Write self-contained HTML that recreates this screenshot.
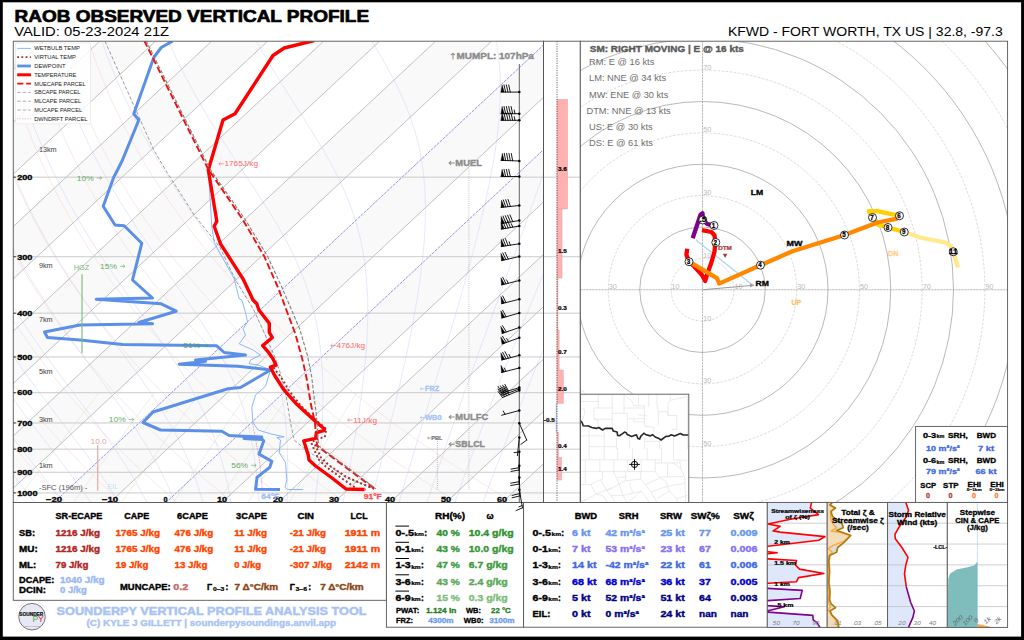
<!DOCTYPE html>
<html><head><meta charset="utf-8"><title>RAOB Observed Vertical Profile</title>
<style>html,body{margin:0;padding:0;background:#fff;}svg{display:block;font-family:"Liberation Sans",sans-serif;}</style></head>
<body>
<svg width="1024" height="640" viewBox="0 0 1024 640">
<rect x="0.00" y="0.00" width="1024.00" height="640.00" fill="#000" stroke="none" stroke-width="1" />
<rect x="2.80" y="2.30" width="1018.30" height="634.30" fill="#fff" stroke="none" stroke-width="1" />
<text x="14.60" y="21.50" font-size="17.30" fill="#000" font-weight="bold" stroke="#000" stroke-width="0.73" stroke-linejoin="round" textLength="354.46" lengthAdjust="spacingAndGlyphs" >RAOB OBSERVED VERTICAL PROFILE</text>
<text x="14.20" y="36.40" font-size="13.21" fill="#000" textLength="154.95" lengthAdjust="spacingAndGlyphs" >VALID: 05-23-2024 21Z</text>
<text x="727.92" y="36.40" font-size="13.21" fill="#000" textLength="274.88" lengthAdjust="spacingAndGlyphs" >KFWD - FORT WORTH, TX US | 32.8, -97.3</text>
<clipPath id="skclip"><rect x="13.25" y="41.20" width="530.25" height="461.30"/></clipPath>
<g clip-path="url(#skclip)">
<polygon points="-730.0,502.5 -674.0,502.5 -180.4,41.2 -236.4,41.2" fill="#f9f9f9"/>
<polygon points="-618.0,502.5 -562.0,502.5 -68.4,41.2 -124.4,41.2" fill="#f9f9f9"/>
<polygon points="-506.0,502.5 -450.0,502.5 43.6,41.2 -12.4,41.2" fill="#f9f9f9"/>
<polygon points="-394.0,502.5 -338.0,502.5 155.6,41.2 99.6,41.2" fill="#f9f9f9"/>
<polygon points="-282.0,502.5 -226.0,502.5 267.6,41.2 211.6,41.2" fill="#f9f9f9"/>
<polygon points="-170.0,502.5 -114.0,502.5 379.6,41.2 323.6,41.2" fill="#f9f9f9"/>
<polygon points="-58.0,502.5 -2.0,502.5 491.6,41.2 435.6,41.2" fill="#f9f9f9"/>
<polygon points="54.0,502.5 110.0,502.5 603.6,41.2 547.6,41.2" fill="#f9f9f9"/>
<polygon points="166.0,502.5 222.0,502.5 715.6,41.2 659.6,41.2" fill="#f9f9f9"/>
<polygon points="278.0,502.5 334.0,502.5 827.6,41.2 771.6,41.2" fill="#f9f9f9"/>
<polygon points="390.0,502.5 446.0,502.5 939.6,41.2 883.6,41.2" fill="#f9f9f9"/>
<polygon points="502.0,502.5 558.0,502.5 1051.6,41.2 995.6,41.2" fill="#f9f9f9"/>
<polyline points="9.2,502.5 -8.9,482.4" fill="none" stroke="#f9d0d0" stroke-width="0.5" />
<polyline points="65.2,502.5 45.5,482.4 27.1,462.4 9.7,442.3 -6.5,422.3" fill="none" stroke="#f9d0d0" stroke-width="0.5" />
<polyline points="121.2,502.5 99.9,482.4 79.9,462.4 61.0,442.3 43.3,422.3 26.8,402.2 11.3,382.2 -3.1,362.1" fill="none" stroke="#f9d0d0" stroke-width="0.5" />
<polyline points="177.2,502.5 154.3,482.4 132.7,462.4 112.3,442.3 93.1,422.3 75.1,402.2 58.3,382.2 42.5,362.1 27.8,342.0 14.2,322.0 1.5,301.9" fill="none" stroke="#f9d0d0" stroke-width="0.5" />
<polyline points="233.2,502.5 208.7,482.4 185.5,462.4 163.6,442.3 143.0,422.3 123.5,402.2 105.3,382.2 88.2,362.1 72.2,342.0 57.2,322.0 43.3,301.9 30.5,281.9 18.6,261.8 7.7,241.8" fill="none" stroke="#f9d0d0" stroke-width="0.5" />
<polyline points="289.2,502.5 263.1,482.4 238.3,462.4 214.9,442.3 192.8,422.3 171.9,402.2 152.3,382.2 133.8,362.1 116.5,342.0 100.3,322.0 85.2,301.9 71.1,281.9 58.0,261.8 46.0,241.8 34.9,221.7 24.8,201.6 15.5,181.6 7.2,161.5" fill="none" stroke="#f9d0d0" stroke-width="0.5" />
<polyline points="345.2,502.5 317.5,482.4 291.2,462.4 266.2,442.3 242.6,422.3 220.3,402.2 199.3,382.2 179.4,362.1 160.8,342.0 143.3,322.0 127.0,301.9 111.7,281.9 97.5,261.8 84.3,241.8 72.1,221.7 60.9,201.6 50.6,181.6 41.2,161.5 32.8,141.5 25.2,121.4 18.4,101.4 12.4,81.3 7.2,61.3" fill="none" stroke="#f9d0d0" stroke-width="0.5" />
<polyline points="401.2,502.5 371.9,482.4 344.0,462.4 317.5,442.3 292.4,422.3 268.7,402.2 246.3,382.2 225.1,362.1 205.1,342.0 186.4,322.0 168.8,301.9 152.3,281.9 136.9,261.8 122.6,241.8 109.3,221.7 97.0,201.6 85.7,181.6 75.3,161.5 65.9,141.5 57.3,121.4 49.6,101.4 42.7,81.3 36.7,61.3 31.4,41.2" fill="none" stroke="#f9d0d0" stroke-width="0.5" />
<polyline points="457.2,502.5 426.3,482.4 396.8,462.4 368.8,442.3 342.3,422.3 317.1,402.2 293.3,382.2 270.7,362.1 249.5,342.0 229.4,322.0 210.6,301.9 192.9,281.9 176.4,261.8 160.9,241.8 146.5,221.7 133.2,201.6 120.8,181.6 109.4,161.5 99.0,141.5 89.5,121.4 80.8,101.4 73.1,81.3 66.1,61.3 60.0,41.2" fill="none" stroke="#f9d0d0" stroke-width="0.5" />
<polyline points="513.2,502.5 480.6,482.4 449.6,462.4 420.1,442.3 392.1,422.3 365.5,402.2 340.3,382.2 316.4,362.1 293.8,342.0 272.5,322.0 252.4,301.9 233.5,281.9 215.8,261.8 199.2,241.8 183.7,221.7 169.3,201.6 155.9,181.6 143.5,161.5 132.1,141.5 121.6,121.4 112.0,101.4 103.4,81.3 95.6,61.3 88.6,41.2" fill="none" stroke="#f9d0d0" stroke-width="0.5" />
<polyline points="35.0,502.5 20.3,483.9 5.7,465.4" fill="none" stroke="#d0d0f9" stroke-width="0.5" />
<polyline points="63.0,502.5 48.9,483.9 34.4,465.4 19.9,446.9 5.6,428.3" fill="none" stroke="#d0d0f9" stroke-width="0.5" />
<polyline points="91.0,502.5 77.8,483.9 63.9,465.4 49.6,446.9 35.3,428.3 21.2,409.8 7.5,391.2" fill="none" stroke="#d0d0f9" stroke-width="0.5" />
<polyline points="119.0,502.5 107.2,483.9 94.4,465.4 80.7,446.9 66.7,428.3 52.5,409.8 38.5,391.2 24.9,372.7 11.9,354.1 -0.4,335.6" fill="none" stroke="#d0d0f9" stroke-width="0.5" />
<polyline points="147.0,502.5 137.0,483.9 125.7,465.4 113.3,446.9 100.0,428.3 86.2,409.8 72.1,391.2 58.3,372.7 44.7,354.1 31.8,335.6 19.5,317.0 8.0,298.5" fill="none" stroke="#d0d0f9" stroke-width="0.5" />
<polyline points="175.0,502.5 167.1,483.9 157.8,465.4 147.2,446.9 135.4,428.3 122.6,409.8 109.1,391.2 95.3,372.7 81.6,354.1 68.1,335.6 55.1,317.0 42.8,298.5 31.2,280.0 20.3,261.4 10.2,242.9 0.9,224.3" fill="none" stroke="#d0d0f9" stroke-width="0.5" />
<polyline points="203.0,502.5 197.3,483.9 190.4,465.4 182.2,446.9 172.5,428.3 161.6,409.8 149.5,391.2 136.6,372.7 123.1,354.1 109.5,335.6 96.1,317.0 83.1,298.5 70.6,280.0 58.8,261.4 47.8,242.9 37.5,224.3 28.0,205.8 19.3,187.2 11.3,168.7 4.1,150.1" fill="none" stroke="#d0d0f9" stroke-width="0.5" />
<polyline points="231.0,502.5 227.6,483.9 223.1,465.4 217.6,446.9 210.7,428.3 202.5,409.8 192.8,391.2 181.9,372.7 169.8,354.1 157.0,335.6 143.7,317.0 130.4,298.5 117.3,280.0 104.6,261.4 92.6,242.9 81.2,224.3 70.6,205.8 60.8,187.2 51.7,168.7 43.4,150.1 35.8,131.6 29.0,113.1 22.9,94.5 17.4,76.0 12.6,57.4 9.0,41.2" fill="none" stroke="#d0d0f9" stroke-width="0.5" />
<polyline points="259.0,502.5 257.7,483.9 255.7,465.4 252.8,446.9 248.9,428.3 243.8,409.8 237.4,391.2 229.6,372.7 220.4,354.1 209.9,335.6 198.2,317.0 185.7,298.5 172.7,280.0 159.7,261.4 146.8,242.9 134.4,224.3 122.7,205.8 111.6,187.2 101.2,168.7 91.6,150.1 82.8,131.6 74.7,113.1 67.3,94.5 60.7,76.0 54.8,57.4 50.2,41.2" fill="none" stroke="#d0d0f9" stroke-width="0.5" />
<polyline points="287.0,502.5 287.6,483.9 287.7,465.4 287.3,446.9 286.2,428.3 284.2,409.8 281.3,391.2 277.3,372.7 272.0,354.1 265.3,335.6 257.2,317.0 247.6,298.5 236.8,280.0 224.9,261.4 212.5,242.9 199.7,224.3 187.1,205.8 174.8,187.2 163.1,168.7 152.0,150.1 141.7,131.6 132.0,113.1 123.2,94.5 115.1,76.0 107.7,57.4 101.9,41.2" fill="none" stroke="#d0d0f9" stroke-width="0.5" />
<polyline points="315.0,502.5 317.2,483.9 319.2,465.4 320.8,446.9 322.1,428.3 322.8,409.8 323.0,391.2 322.4,372.7 321.0,354.1 318.7,335.6 315.2,317.0 310.4,298.5 304.3,280.0 296.6,261.4 287.4,242.9 277.0,224.3 265.5,205.8 253.4,187.2 241.1,168.7 228.8,150.1 217.0,131.6 205.6,113.1 195.0,94.5 185.1,76.0 175.9,57.4 168.5,41.2" fill="none" stroke="#d0d0f9" stroke-width="0.5" />
<polyline points="343.0,502.5 346.6,483.9 350.0,465.4 353.3,446.9 356.5,428.3 359.3,409.8 361.9,391.2 364.1,372.7 365.9,354.1 367.2,335.6 367.8,317.0 367.7,298.5 366.6,280.0 364.6,261.4 361.3,242.9 356.7,224.3 350.6,205.8 342.9,187.2 333.8,168.7 323.4,150.1 312.1,131.6 300.3,113.1 288.4,94.5 276.8,76.0 265.6,57.4 256.3,41.2" fill="none" stroke="#d0d0f9" stroke-width="0.5" />
<polyline points="371.0,502.5 375.6,483.9 380.3,465.4 384.9,446.9 389.4,428.3 393.9,409.8 398.3,391.2 402.5,372.7 406.6,354.1 410.4,335.6 413.9,317.0 417.2,298.5 420.0,280.0 422.3,261.4 424.1,242.9 425.2,224.3 425.5,205.8 424.8,187.2 422.9,168.7 419.8,150.1 415.1,131.6 408.9,113.1 401.1,94.5 391.9,76.0 381.6,57.4 371.9,41.2" fill="none" stroke="#d0d0f9" stroke-width="0.5" />
<polyline points="399.0,502.5 404.4,483.9 410.0,465.4 415.6,446.9 421.2,428.3 426.8,409.8 432.5,391.2 438.1,372.7 443.7,354.1 449.3,335.6 454.8,317.0 460.2,298.5 465.4,280.0 470.5,261.4 475.5,242.9 480.1,224.3 484.5,205.8 488.6,187.2 492.2,168.7 495.3,150.1 497.8,131.6 499.5,113.1 500.4,94.5 500.3,76.0 498.9,57.4 496.5,41.2" fill="none" stroke="#d0d0f9" stroke-width="0.5" />
<polyline points="427.0,502.5 433.1,483.9 439.3,465.4 445.6,446.9 451.9,428.3 458.4,409.8 464.9,391.2 471.5,372.7 478.2,354.1 484.9,335.6 491.6,317.0 498.4,298.5 505.1,280.0 511.9,261.4 518.6,242.9 525.4,224.3 532.0,205.8 538.6,187.2 545.1,168.7 551.5,150.1" fill="none" stroke="#d0d0f9" stroke-width="0.5" />
<polyline points="455.0,502.5 461.5,483.9 468.2,465.4 475.0,446.9 481.9,428.3 488.9,409.8 496.1,391.2 503.3,372.7 510.7,354.1 518.1,335.6 525.6,317.0 533.2,298.5 540.9,280.0 548.6,261.4" fill="none" stroke="#d0d0f9" stroke-width="0.5" />
<polyline points="483.0,502.5 489.8,483.9 496.8,465.4 503.9,446.9 511.2,428.3 518.6,409.8 526.2,391.2 533.8,372.7 541.6,354.1 549.5,335.6" fill="none" stroke="#d0d0f9" stroke-width="0.5" />
<polyline points="14.8,502.5 22.4,492.5 30.0,482.5 37.6,472.6 45.2,462.6 52.9,452.6 60.5,442.6 68.2,432.6 75.9,422.6 83.6,412.7 91.3,402.7 99.1,392.7" fill="none" stroke="#cfe6cf" stroke-width="0.5" />
<polyline points="73.3,502.5 80.6,492.5 87.9,482.5 95.2,472.6 102.6,462.6 109.9,452.6 117.3,442.6 124.7,432.6 132.1,422.6 139.5,412.7 146.9,402.7 154.4,392.7" fill="none" stroke="#cfe6cf" stroke-width="0.5" />
<polyline points="121.5,502.5 128.5,492.5 135.5,482.5 142.6,472.6 149.6,462.6 156.7,452.6 163.9,442.6 171.0,432.6 178.1,422.6 185.3,412.7 192.5,402.7 199.7,392.7" fill="none" stroke="#cfe6cf" stroke-width="0.5" />
<polyline points="173.2,502.5 180.0,492.5 186.7,482.5 193.5,472.6 200.3,462.6 207.1,452.6 213.9,442.6 220.8,432.6 227.7,422.6 234.5,412.7 241.5,402.7 248.4,392.7" fill="none" stroke="#cfe6cf" stroke-width="0.5" />
<polyline points="217.9,502.5 224.4,492.5 230.9,482.5 237.4,472.6 243.9,462.6 250.5,452.6 257.1,442.6 263.7,432.6 270.3,422.6 277.0,412.7 283.6,402.7 290.3,392.7" fill="none" stroke="#cfe6cf" stroke-width="0.5" />
<polyline points="247.8,502.5 254.1,492.5 260.4,482.5 266.7,472.6 273.1,462.6 279.5,452.6 285.9,442.6 292.3,432.6 298.8,422.6 305.3,412.7 311.8,402.7 318.3,392.7" fill="none" stroke="#cfe6cf" stroke-width="0.5" />
<polyline points="288.9,502.5 294.9,492.5 301.0,482.5 307.0,472.6 313.2,462.6 319.3,452.6 325.5,442.6 331.7,432.6 337.9,422.6 344.2,412.7 350.4,402.7 356.7,392.7" fill="none" stroke="#cfe6cf" stroke-width="0.5" />
<line x1="-730.00" y1="502.50" x2="-236.41" y2="41.20" stroke="#9a9a9a" stroke-width="0.6" />
<line x1="-674.00" y1="502.50" x2="-180.41" y2="41.20" stroke="#9a9a9a" stroke-width="0.6" />
<line x1="-618.00" y1="502.50" x2="-124.41" y2="41.20" stroke="#9a9a9a" stroke-width="0.6" />
<line x1="-562.00" y1="502.50" x2="-68.41" y2="41.20" stroke="#9a9a9a" stroke-width="0.6" />
<line x1="-506.00" y1="502.50" x2="-12.41" y2="41.20" stroke="#9a9a9a" stroke-width="0.6" />
<line x1="-450.00" y1="502.50" x2="43.59" y2="41.20" stroke="#9a9a9a" stroke-width="0.6" />
<line x1="-394.00" y1="502.50" x2="99.59" y2="41.20" stroke="#9a9a9a" stroke-width="0.6" />
<line x1="-338.00" y1="502.50" x2="155.59" y2="41.20" stroke="#9a9a9a" stroke-width="0.6" />
<line x1="-282.00" y1="502.50" x2="211.59" y2="41.20" stroke="#9a9a9a" stroke-width="0.6" />
<line x1="-226.00" y1="502.50" x2="267.59" y2="41.20" stroke="#9a9a9a" stroke-width="0.6" />
<line x1="-170.00" y1="502.50" x2="323.59" y2="41.20" stroke="#9a9a9a" stroke-width="0.6" />
<line x1="-114.00" y1="502.50" x2="379.59" y2="41.20" stroke="#9a9a9a" stroke-width="0.6" />
<line x1="-58.00" y1="502.50" x2="435.59" y2="41.20" stroke="#9a9a9a" stroke-width="0.6" />
<line x1="-2.00" y1="502.50" x2="491.59" y2="41.20" stroke="#9a9a9a" stroke-width="0.6" />
<line x1="54.00" y1="502.50" x2="547.59" y2="41.20" stroke="#7a7ae8" stroke-width="0.8" stroke-dasharray="3,1"/>
<line x1="110.00" y1="502.50" x2="603.59" y2="41.20" stroke="#9a9a9a" stroke-width="0.6" />
<line x1="166.00" y1="502.50" x2="659.59" y2="41.20" stroke="#7a7ae8" stroke-width="0.8" stroke-dasharray="3,1"/>
<line x1="222.00" y1="502.50" x2="715.59" y2="41.20" stroke="#9a9a9a" stroke-width="0.6" />
<line x1="278.00" y1="502.50" x2="771.59" y2="41.20" stroke="#9a9a9a" stroke-width="0.6" />
<line x1="334.00" y1="502.50" x2="827.59" y2="41.20" stroke="#9a9a9a" stroke-width="0.6" />
<line x1="390.00" y1="502.50" x2="883.59" y2="41.20" stroke="#9a9a9a" stroke-width="0.6" />
<line x1="446.00" y1="502.50" x2="939.59" y2="41.20" stroke="#9a9a9a" stroke-width="0.6" />
<line x1="502.00" y1="502.50" x2="995.59" y2="41.20" stroke="#9a9a9a" stroke-width="0.6" />
<line x1="558.00" y1="502.50" x2="1051.59" y2="41.20" stroke="#9a9a9a" stroke-width="0.6" />
<line x1="13.25" y1="177.18" x2="543.50" y2="177.18" stroke="#c4c4c4" stroke-width="0.9" />
<line x1="13.25" y1="256.73" x2="543.50" y2="256.73" stroke="#c4c4c4" stroke-width="0.9" />
<line x1="13.25" y1="313.16" x2="543.50" y2="313.16" stroke="#c4c4c4" stroke-width="0.9" />
<line x1="13.25" y1="356.94" x2="543.50" y2="356.94" stroke="#c4c4c4" stroke-width="0.9" />
<line x1="13.25" y1="392.71" x2="543.50" y2="392.71" stroke="#c4c4c4" stroke-width="0.9" />
<line x1="13.25" y1="422.95" x2="543.50" y2="422.95" stroke="#c4c4c4" stroke-width="0.9" />
<line x1="13.25" y1="449.14" x2="543.50" y2="449.14" stroke="#c4c4c4" stroke-width="0.9" />
<line x1="13.25" y1="472.25" x2="543.50" y2="472.25" stroke="#c4c4c4" stroke-width="0.9" />
<line x1="13.25" y1="492.92" x2="543.50" y2="492.92" stroke="#c4c4c4" stroke-width="0.9" />
</g>
<g clip-path="url(#skclip)" stroke-linejoin="round">
<polyline points="105.0,41.2 153.8,150.0 165.5,170.0 194.2,215.0 220.0,247.5 235.5,280.0 253.8,310.0 262.7,329.3 274.5,356.0 280.5,373.8 285.7,393.1 290.4,422.3 294.1,440.0 306.7,450.5 320.0,459.0 345.0,477.0 372.0,488.0" fill="none" stroke="#9a9a9a" stroke-width="1.0" stroke-dasharray="3.5,2"/>
<polyline points="252.5,422.6 259.6,461.2 262.3,489.6" fill="none" stroke="#b060b0" stroke-width="0.6" stroke-dasharray="0.8,0.8"/>
<polyline points="208.3,170.0 211.8,226.2 214.2,242.5 234.2,278.8 239.2,298.8 241.8,300.0 245.5,312.5 247.5,322.0 243.0,328.8 245.5,335.0 239.2,343.8 253.0,350.0 260.5,355.0 250.5,360.0 249.2,363.8 258.0,365.0 270.5,370.0 265.5,386.2 255.5,395.0 251.8,407.5 253.0,422.5 258.0,430.0 270.5,433.8 284.2,436.8 276.8,437.5 280.5,440.0 279.2,452.5 285.5,462.5 286.8,480.0 285.0,487.5 287.5,489.5 303.2,489.5" fill="none" stroke="#7ab0ff" stroke-width="0.9" />
<polyline points="273.5,367.5 274.9,369.6 280.2,376.0 285.4,384.2 288.4,390.1 293.5,396.5 298.8,403.3 304.8,409.8 317.7,421.8 326.3,429.0 325.8,431.5 324.8,437.3 318.6,438.2 311.2,442.3 314.9,451.2 318.6,459.4 326.0,466.8 342.4,478.7 357.2,489.0 366.0,489.6" fill="none" stroke="#9c3030" stroke-width="2.0" stroke-dasharray="1.9,2.5"/>
<polyline points="314.9,444.5 320.8,457.2 329.0,465.3 346.8,477.2 369.0,486.8 375.8,489.5" fill="none" stroke="#9c3030" stroke-width="2.0" stroke-dasharray="1.9,2.5"/>
<polyline points="172.5,41.2 161.2,47.5 153.8,57.5 133.8,113.8 138.8,120.0 122.5,160.0 117.5,170.0 113.8,177.0 103.2,206.2 115.0,225.0 124.2,225.8 141.8,243.2 132.5,280.0 152.5,298.0 96.2,299.2 161.2,303.8 176.2,311.2 138.8,322.5 152.5,323.8 80.0,325.0 44.5,332.0 47.5,337.5 80.0,340.0 122.5,344.5 216.8,345.8 224.2,352.5 245.5,355.0 195.5,360.0 205.5,361.2 179.2,364.2 238.0,366.2 270.5,370.0 240.5,387.5 228.0,388.8 153.0,412.0 143.0,422.5 160.5,430.0 221.8,431.2 229.2,435.5 243.0,436.2 261.8,437.0 244.0,438.4 262.8,439.6 263.7,441.0 259.0,454.1 271.8,461.2 269.8,467.3 260.7,474.4 257.0,477.5 255.6,489.3 280.0,489.6" fill="none" stroke="#5b8fe8" stroke-width="3.0" />
<polyline points="314.2,40.5 284.2,48.0 273.0,55.5 235.0,113.8 223.0,120.0 208.3,170.0 216.8,221.2 214.2,226.2 220.5,243.8 243.0,278.8 253.0,300.0 256.8,303.8 258.9,310.0 269.3,323.4 269.3,332.3 272.3,337.5 262.7,345.6 267.9,351.6 273.1,359.0 276.0,365.2 270.4,367.2 274.5,375.3 284.2,390.2 296.8,404.3 303.0,410.0 316.4,422.3 324.5,429.0 323.8,430.6 316.4,432.5 315.6,438.3 303.8,440.8 308.2,455.0 309.0,460.1 315.6,466.0 332.0,478.0 346.0,489.0 364.6,489.5" fill="none" stroke="#ff0000" stroke-width="3.4" />
<polyline points="144.2,40.5 208.0,168.8 243.0,220.0 264.2,256.2 278.0,287.5 286.4,310.0 295.3,333.8 302.7,360.5 307.2,381.3 310.9,404.3 314.9,422.3 317.1,446.0 320.1,448.2 375.0,489.0" fill="none" stroke="#f01010" stroke-width="1.9" stroke-dasharray="6.8,3"/>
<polyline points="146.0,40.5 209.8,168.8 245.5,220.0 267.5,256.2 282.0,287.5 291.6,310.0 299.8,329.3 307.2,354.5 311.7,376.8 314.3,399.0 316.4,414.8 318.6,446.0 321.0,447.6 376.0,488.8" fill="none" stroke="#808080" stroke-width="1.1" stroke-dasharray="3.7,1.8"/>
</g>
<text x="38.90" y="151.64" font-size="6.27" fill="#3c3c3c" textLength="17.80" lengthAdjust="spacingAndGlyphs" >13km</text>
<text x="38.90" y="268.39" font-size="6.27" fill="#3c3c3c" textLength="13.79" lengthAdjust="spacingAndGlyphs" >9km</text>
<text x="38.90" y="322.14" font-size="6.27" fill="#3c3c3c" textLength="13.79" lengthAdjust="spacingAndGlyphs" >7km</text>
<text x="38.90" y="373.89" font-size="6.27" fill="#3c3c3c" textLength="13.79" lengthAdjust="spacingAndGlyphs" >5km</text>
<text x="38.90" y="422.14" font-size="6.27" fill="#3c3c3c" textLength="13.79" lengthAdjust="spacingAndGlyphs" >3km</text>
<text x="38.90" y="467.89" font-size="6.27" fill="#3c3c3c" textLength="13.79" lengthAdjust="spacingAndGlyphs" >1km</text>
<text x="38.90" y="489.88" font-size="6.96" fill="#555" textLength="48.50" lengthAdjust="spacingAndGlyphs" >-SFC (196m) -</text>
<text x="17.20" y="179.96" font-size="7.26" fill="#000" font-weight="bold" stroke="#000" stroke-width="0.31" stroke-linejoin="round" textLength="15.24" lengthAdjust="spacingAndGlyphs" >200</text>
<line x1="13.25" y1="177.18" x2="15.75" y2="177.18" stroke="#000" stroke-width="0.8" />
<text x="17.20" y="259.51" font-size="7.26" fill="#000" font-weight="bold" stroke="#000" stroke-width="0.31" stroke-linejoin="round" textLength="15.24" lengthAdjust="spacingAndGlyphs" >300</text>
<line x1="13.25" y1="256.73" x2="15.75" y2="256.73" stroke="#000" stroke-width="0.8" />
<text x="17.20" y="315.95" font-size="7.26" fill="#000" font-weight="bold" stroke="#000" stroke-width="0.31" stroke-linejoin="round" textLength="15.24" lengthAdjust="spacingAndGlyphs" >400</text>
<line x1="13.25" y1="313.16" x2="15.75" y2="313.16" stroke="#000" stroke-width="0.8" />
<text x="17.20" y="359.72" font-size="7.26" fill="#000" font-weight="bold" stroke="#000" stroke-width="0.31" stroke-linejoin="round" textLength="15.24" lengthAdjust="spacingAndGlyphs" >500</text>
<line x1="13.25" y1="356.94" x2="15.75" y2="356.94" stroke="#000" stroke-width="0.8" />
<text x="17.20" y="395.49" font-size="7.26" fill="#000" font-weight="bold" stroke="#000" stroke-width="0.31" stroke-linejoin="round" textLength="15.24" lengthAdjust="spacingAndGlyphs" >600</text>
<line x1="13.25" y1="392.71" x2="15.75" y2="392.71" stroke="#000" stroke-width="0.8" />
<text x="17.20" y="425.73" font-size="7.26" fill="#000" font-weight="bold" stroke="#000" stroke-width="0.31" stroke-linejoin="round" textLength="15.24" lengthAdjust="spacingAndGlyphs" >700</text>
<line x1="13.25" y1="422.95" x2="15.75" y2="422.95" stroke="#000" stroke-width="0.8" />
<text x="17.20" y="451.93" font-size="7.26" fill="#000" font-weight="bold" stroke="#000" stroke-width="0.31" stroke-linejoin="round" textLength="15.24" lengthAdjust="spacingAndGlyphs" >800</text>
<line x1="13.25" y1="449.14" x2="15.75" y2="449.14" stroke="#000" stroke-width="0.8" />
<text x="17.20" y="475.03" font-size="7.26" fill="#000" font-weight="bold" stroke="#000" stroke-width="0.31" stroke-linejoin="round" textLength="15.24" lengthAdjust="spacingAndGlyphs" >900</text>
<line x1="13.25" y1="472.25" x2="15.75" y2="472.25" stroke="#000" stroke-width="0.8" />
<text x="17.20" y="495.70" font-size="7.26" fill="#000" font-weight="bold" stroke="#000" stroke-width="0.31" stroke-linejoin="round" textLength="20.32" lengthAdjust="spacingAndGlyphs" >1000</text>
<line x1="13.25" y1="492.92" x2="15.75" y2="492.92" stroke="#000" stroke-width="0.8" />
<text x="45.86" y="501.68" font-size="7.26" fill="#000" font-weight="bold" stroke="#000" stroke-width="0.31" stroke-linejoin="round" textLength="16.28" lengthAdjust="spacingAndGlyphs" >−20</text>
<text x="101.86" y="501.68" font-size="7.26" fill="#000" font-weight="bold" stroke="#000" stroke-width="0.31" stroke-linejoin="round" textLength="16.28" lengthAdjust="spacingAndGlyphs" >−10</text>
<text x="163.46" y="501.68" font-size="7.26" fill="#000" font-weight="bold" stroke="#000" stroke-width="0.31" stroke-linejoin="round" >0</text>
<text x="216.92" y="501.68" font-size="7.26" fill="#000" font-weight="bold" stroke="#000" stroke-width="0.31" stroke-linejoin="round" textLength="10.16" lengthAdjust="spacingAndGlyphs" >10</text>
<text x="272.92" y="501.68" font-size="7.26" fill="#000" font-weight="bold" stroke="#000" stroke-width="0.31" stroke-linejoin="round" textLength="10.16" lengthAdjust="spacingAndGlyphs" >20</text>
<text x="328.92" y="501.68" font-size="7.26" fill="#000" font-weight="bold" stroke="#000" stroke-width="0.31" stroke-linejoin="round" textLength="10.16" lengthAdjust="spacingAndGlyphs" >30</text>
<text x="384.92" y="501.68" font-size="7.26" fill="#000" font-weight="bold" stroke="#000" stroke-width="0.31" stroke-linejoin="round" textLength="10.16" lengthAdjust="spacingAndGlyphs" >40</text>
<text x="440.92" y="501.68" font-size="7.26" fill="#000" font-weight="bold" stroke="#000" stroke-width="0.31" stroke-linejoin="round" textLength="10.16" lengthAdjust="spacingAndGlyphs" >50</text>
<text x="496.92" y="501.68" font-size="7.26" fill="#000" font-weight="bold" stroke="#000" stroke-width="0.31" stroke-linejoin="round" textLength="10.16" lengthAdjust="spacingAndGlyphs" >60</text>
<text x="76.75" y="180.59" font-size="7.58" fill="#4c9e4c" opacity="0.85" textLength="16.94" lengthAdjust="spacingAndGlyphs" >10%</text>
<path d="M96.72,178.04 L101.42,178.04 M99.92,176.36 L101.75,178.04 L99.92,179.71" fill="none" stroke="#4c9e4c" stroke-width="0.65" stroke-opacity="0.85"/>
<text x="100.00" y="268.84" font-size="7.58" fill="#4c9e4c" opacity="0.85" textLength="16.94" lengthAdjust="spacingAndGlyphs" >15%</text>
<path d="M119.97,266.29 L124.67,266.29 M123.17,264.61 L125.00,266.29 L123.17,267.96" fill="none" stroke="#4c9e4c" stroke-width="0.65" stroke-opacity="0.85"/>
<text x="183.25" y="348.34" font-size="7.58" fill="#4c9e4c" opacity="0.85" textLength="16.94" lengthAdjust="spacingAndGlyphs" >51%</text>
<path d="M203.22,345.79 L207.92,345.79 M206.42,344.11 L208.25,345.79 L206.42,347.46" fill="none" stroke="#4c9e4c" stroke-width="0.65" stroke-opacity="0.85"/>
<text x="108.75" y="422.09" font-size="7.58" fill="#4c9e4c" opacity="0.85" textLength="16.94" lengthAdjust="spacingAndGlyphs" >10%</text>
<path d="M128.72,419.54 L133.42,419.54 M131.92,417.86 L133.75,419.54 L131.92,421.21" fill="none" stroke="#4c9e4c" stroke-width="0.65" stroke-opacity="0.85"/>
<text x="231.20" y="467.89" font-size="7.58" fill="#4c9e4c" opacity="0.85" textLength="16.94" lengthAdjust="spacingAndGlyphs" >56%</text>
<path d="M251.17,465.34 L255.87,465.34 M254.37,463.66 L256.20,465.34 L254.37,467.01" fill="none" stroke="#4c9e4c" stroke-width="0.65" stroke-opacity="0.85"/>
<text x="73.75" y="269.88" font-size="6.96" fill="#4c9e4c" opacity="0.75" textLength="15.48" lengthAdjust="spacingAndGlyphs" >HGZ</text>
<line x1="82.00" y1="274.25" x2="82.00" y2="353.25" stroke="#7fbf7f" stroke-width="1.2" />
<text x="90.50" y="443.73" font-size="7.26" fill="#e3a3a3" textLength="16.25" lengthAdjust="spacingAndGlyphs" >10.0</text>
<line x1="97.75" y1="445.00" x2="97.75" y2="490.75" stroke="#e2a0a0" stroke-width="1.1" />
<text x="107.50" y="488.73" font-size="7.26" fill="#c6e4f2" textLength="10.83" lengthAdjust="spacingAndGlyphs" >EIL</text>
<path d="M223.81,163.79 L219.09,163.79 M220.60,162.11 L218.76,163.79 L220.60,165.47" fill="none" stroke="#ff6a6a" stroke-width="0.65"/>
<text x="224.41" y="166.35" font-size="7.61" fill="#ff6a6a" textLength="33.59" lengthAdjust="spacingAndGlyphs" >1765J/kg</text>
<path d="M335.81,345.54 L331.09,345.54 M332.60,343.86 L330.76,345.54 L332.60,347.22" fill="none" stroke="#ff6a6a" stroke-width="0.65"/>
<text x="336.41" y="348.10" font-size="7.61" fill="#ff6a6a" textLength="28.72" lengthAdjust="spacingAndGlyphs" >476J/kg</text>
<path d="M352.56,420.04 L347.84,420.04 M349.35,418.36 L347.51,420.04 L349.35,421.72" fill="none" stroke="#ff6a6a" stroke-width="0.65"/>
<text x="353.16" y="422.60" font-size="7.61" fill="#ff6a6a" textLength="23.85" lengthAdjust="spacingAndGlyphs" >11J/kg</text>
<path d="M424.48,388.78 L420.55,388.78 M421.73,387.34 L420.15,388.78 L421.73,390.22" fill="none" stroke="#a5c3f7" stroke-width="0.79"/>
<text x="424.99" y="390.98" font-size="6.52" fill="#a5c3f7" font-weight="bold" stroke="#a5c3f7" stroke-width="0.28" stroke-linejoin="round" textLength="14.27" lengthAdjust="spacingAndGlyphs" >FRZ</text>
<path d="M424.48,417.53 L420.55,417.53 M421.73,416.09 L420.15,417.53 L421.73,418.97" fill="none" stroke="#a5c3f7" stroke-width="0.79"/>
<text x="424.99" y="419.73" font-size="6.52" fill="#a5c3f7" font-weight="bold" stroke="#a5c3f7" stroke-width="0.28" stroke-linejoin="round" textLength="16.77" lengthAdjust="spacingAndGlyphs" >WB0</text>
<path d="M454.71,417.04 L449.61,417.04 M451.14,415.17 L449.10,417.04 L451.14,418.91" fill="none" stroke="#8c8c8c" stroke-width="1.02"/>
<text x="455.37" y="419.89" font-size="8.46" fill="#8c8c8c" font-weight="bold" stroke="#8c8c8c" stroke-width="0.36" stroke-linejoin="round" textLength="32.82" lengthAdjust="spacingAndGlyphs" >MULFC</text>
<path d="M454.71,444.29 L449.61,444.29 M451.14,442.42 L449.10,444.29 L451.14,446.16" fill="none" stroke="#8c8c8c" stroke-width="1.02"/>
<text x="455.37" y="447.14" font-size="8.46" fill="#8c8c8c" font-weight="bold" stroke="#8c8c8c" stroke-width="0.36" stroke-linejoin="round" textLength="29.67" lengthAdjust="spacingAndGlyphs" >SBLCL</text>
<path d="M454.71,163.04 L449.61,163.04 M451.14,161.17 L449.10,163.04 L451.14,164.91" fill="none" stroke="#8c8c8c" stroke-width="1.02"/>
<text x="455.37" y="165.89" font-size="8.46" fill="#8c8c8c" font-weight="bold" stroke="#8c8c8c" stroke-width="0.36" stroke-linejoin="round" textLength="26.58" lengthAdjust="spacingAndGlyphs" >MUEL</text>
<path d="M452.97,59.46 L452.97,53.68 M451.10,55.21 L452.97,53.17 L454.84,55.21" fill="none" stroke="#8c8c8c" stroke-width="1.02"/>
<text x="456.52" y="59.29" font-size="8.46" fill="#8c8c8c" font-weight="bold" stroke="#8c8c8c" stroke-width="0.36" stroke-linejoin="round" textLength="77.36" lengthAdjust="spacingAndGlyphs" >MUMPL: 107hPa</text>
<path d="M430.95,438.03 L427.83,438.03 M428.77,436.88 L427.52,438.03 L428.77,439.17" fill="none" stroke="#777" stroke-width="0.62"/>
<text x="431.36" y="439.77" font-size="5.17" fill="#777" font-weight="bold" stroke="#777" stroke-width="0.22" stroke-linejoin="round" textLength="11.09" lengthAdjust="spacingAndGlyphs" >PBL</text>
<line x1="437.40" y1="441.00" x2="437.40" y2="490.00" stroke="#a4a4a4" stroke-width="0.8" stroke-dasharray="0.9,1.2"/>
<line x1="468.90" y1="167.50" x2="468.90" y2="490.00" stroke="#b0b0b0" stroke-width="0.8" stroke-dasharray="0.9,1.2"/>
<text x="261.25" y="498.63" font-size="6.96" fill="#9dbdf5" font-weight="bold" stroke="#9dbdf5" stroke-width="0.29" stroke-linejoin="round" textLength="18.02" lengthAdjust="spacingAndGlyphs" >64°F</text>
<text x="363.75" y="498.63" font-size="6.96" fill="#ff4d4d" font-weight="bold" stroke="#ff4d4d" stroke-width="0.29" stroke-linejoin="round" textLength="18.02" lengthAdjust="spacingAndGlyphs" >91°F</text>
<rect x="15.50" y="43.00" width="75.00" height="80.80" fill="#ffffff" stroke="#e3e3e3" stroke-width="0.6" fill-opacity="0.8" rx="1"/>
<line x1="17.20" y1="48.40" x2="30.90" y2="48.40" stroke="#7ab0ff" stroke-width="0.9" />
<text x="34.20" y="50.37" font-size="5.75" fill="#222" textLength="45.77" lengthAdjust="spacingAndGlyphs" >WETBULB TEMP</text>
<line x1="17.20" y1="57.20" x2="30.90" y2="57.20" stroke="#9c3030" stroke-width="1.8" stroke-dasharray="1.8,2.4"/>
<text x="34.20" y="59.17" font-size="5.75" fill="#222" textLength="41.68" lengthAdjust="spacingAndGlyphs" >VIRTUAL TEMP</text>
<line x1="17.20" y1="66.00" x2="30.90" y2="66.00" stroke="#5b8fe8" stroke-width="2.8" />
<text x="34.20" y="67.97" font-size="5.75" fill="#222" textLength="31.41" lengthAdjust="spacingAndGlyphs" >DEWPOINT</text>
<line x1="17.20" y1="74.80" x2="30.90" y2="74.80" stroke="#ff0000" stroke-width="3" />
<text x="34.20" y="76.77" font-size="5.75" fill="#222" textLength="42.02" lengthAdjust="spacingAndGlyphs" >TEMPERATURE</text>
<line x1="17.20" y1="83.60" x2="30.90" y2="83.60" stroke="#f01010" stroke-width="1.8" stroke-dasharray="6.2,2.8"/>
<text x="34.20" y="85.57" font-size="5.75" fill="#222" textLength="51.54" lengthAdjust="spacingAndGlyphs" >MUECAPE PARCEL</text>
<line x1="17.20" y1="92.40" x2="30.90" y2="92.40" stroke="#a8a8a8" stroke-width="0.9" stroke-dasharray="3.5,2"/>
<text x="34.20" y="94.37" font-size="5.75" fill="#222" textLength="46.20" lengthAdjust="spacingAndGlyphs" >SBCAPE PARCEL</text>
<line x1="17.20" y1="101.20" x2="30.90" y2="101.20" stroke="#a8a8a8" stroke-width="0.9" stroke-dasharray="3.5,2"/>
<text x="34.20" y="103.17" font-size="5.75" fill="#222" textLength="46.88" lengthAdjust="spacingAndGlyphs" >MLCAPE PARCEL</text>
<line x1="17.20" y1="110.00" x2="30.90" y2="110.00" stroke="#a8a8a8" stroke-width="0.9" stroke-dasharray="3.5,2"/>
<text x="34.20" y="111.97" font-size="5.75" fill="#222" textLength="47.89" lengthAdjust="spacingAndGlyphs" >MUCAPE PARCEL</text>
<line x1="17.20" y1="118.80" x2="30.90" y2="118.80" stroke="#c58cc5" stroke-width="0.6" stroke-dasharray="0.8,0.8"/>
<text x="34.20" y="120.77" font-size="5.75" fill="#222" textLength="53.25" lengthAdjust="spacingAndGlyphs" >DWNDRFT PARCEL</text>
<rect x="13.25" y="41.20" width="530.25" height="461.30" fill="none" stroke="#555" stroke-width="0.9" />
<line x1="543.50" y1="177.18" x2="580.30" y2="177.18" stroke="#c4c4c4" stroke-width="0.9" />
<line x1="543.50" y1="256.73" x2="580.30" y2="256.73" stroke="#c4c4c4" stroke-width="0.9" />
<line x1="543.50" y1="313.16" x2="580.30" y2="313.16" stroke="#c4c4c4" stroke-width="0.9" />
<line x1="543.50" y1="356.94" x2="580.30" y2="356.94" stroke="#c4c4c4" stroke-width="0.9" />
<line x1="543.50" y1="392.71" x2="580.30" y2="392.71" stroke="#c4c4c4" stroke-width="0.9" />
<line x1="543.50" y1="422.95" x2="580.30" y2="422.95" stroke="#c4c4c4" stroke-width="0.9" />
<line x1="543.50" y1="449.14" x2="580.30" y2="449.14" stroke="#c4c4c4" stroke-width="0.9" />
<line x1="543.50" y1="472.25" x2="580.30" y2="472.25" stroke="#c4c4c4" stroke-width="0.9" />
<line x1="543.50" y1="492.92" x2="580.30" y2="492.92" stroke="#c4c4c4" stroke-width="0.9" />
<rect x="557.00" y="99.50" width="10.50" height="109.50" fill="#ffb0b0" stroke="#e89a9a" stroke-width="0.5" />
<rect x="557.00" y="209.00" width="5.00" height="69.00" fill="#ffb0b0" stroke="#e89a9a" stroke-width="0.5" />
<rect x="557.00" y="278.00" width="0.90" height="52.00" fill="#ffb0b0" stroke="#e89a9a" stroke-width="0.5" />
<rect x="557.00" y="330.00" width="2.10" height="40.00" fill="#ffb0b0" stroke="#e89a9a" stroke-width="0.5" />
<rect x="557.00" y="370.00" width="6.20" height="33.25" fill="#ffb0b0" stroke="#e89a9a" stroke-width="0.5" />
<rect x="555.80" y="403.25" width="1.00" height="29.25" fill="#9db4e6" stroke="none" stroke-width="1" />
<rect x="557.00" y="432.50" width="1.30" height="25.00" fill="#ffb0b0" stroke="#e89a9a" stroke-width="0.5" />
<rect x="557.00" y="457.50" width="4.40" height="22.50" fill="#ffb0b0" stroke="#e89a9a" stroke-width="0.5" />
<line x1="557.00" y1="41.20" x2="557.00" y2="502.50" stroke="#444" stroke-width="0.8" stroke-dasharray="1.2,1.2"/>
<text x="558.07" y="171.20" font-size="4.97" fill="#000" font-weight="bold" stroke="#000" stroke-width="0.21" stroke-linejoin="round" textLength="8.86" lengthAdjust="spacingAndGlyphs" >3.6</text>
<text x="558.07" y="253.45" font-size="4.97" fill="#000" font-weight="bold" stroke="#000" stroke-width="0.21" stroke-linejoin="round" textLength="8.86" lengthAdjust="spacingAndGlyphs" >1.5</text>
<text x="558.07" y="310.45" font-size="4.97" fill="#000" font-weight="bold" stroke="#000" stroke-width="0.21" stroke-linejoin="round" textLength="8.86" lengthAdjust="spacingAndGlyphs" >0.3</text>
<text x="558.07" y="354.20" font-size="4.97" fill="#000" font-weight="bold" stroke="#000" stroke-width="0.21" stroke-linejoin="round" textLength="8.86" lengthAdjust="spacingAndGlyphs" >0.7</text>
<text x="558.07" y="390.95" font-size="4.97" fill="#000" font-weight="bold" stroke="#000" stroke-width="0.21" stroke-linejoin="round" textLength="8.86" lengthAdjust="spacingAndGlyphs" >2.0</text>
<text x="543.83" y="421.70" font-size="4.97" fill="#000" font-weight="bold" stroke="#000" stroke-width="0.21" stroke-linejoin="round" textLength="10.93" lengthAdjust="spacingAndGlyphs" >-0.5</text>
<text x="558.07" y="447.95" font-size="4.97" fill="#000" font-weight="bold" stroke="#000" stroke-width="0.21" stroke-linejoin="round" textLength="8.86" lengthAdjust="spacingAndGlyphs" >0.4</text>
<text x="558.07" y="471.20" font-size="4.97" fill="#000" font-weight="bold" stroke="#000" stroke-width="0.21" stroke-linejoin="round" textLength="8.86" lengthAdjust="spacingAndGlyphs" >1.4</text>
<rect x="543.50" y="41.20" width="36.80" height="461.30" fill="none" stroke="#555" stroke-width="0.9" />
<rect x="580.30" y="41.20" width="427.30" height="461.30" fill="#fff" stroke="none" stroke-width="1" />
<clipPath id="hclip"><rect x="580.30" y="41.20" width="427.30" height="461.30"/></clipPath>
<g clip-path="url(#hclip)">
<circle cx="702.50" cy="289.75" r="31.38" fill="none" stroke="#c2c2c2" stroke-width="0.6" stroke-dasharray="2.6,1.5"/>
<circle cx="702.50" cy="289.75" r="62.75" fill="none" stroke="#8a8a8a" stroke-width="0.6"/>
<circle cx="702.50" cy="289.75" r="94.12" fill="none" stroke="#c2c2c2" stroke-width="0.6" stroke-dasharray="2.6,1.5"/>
<circle cx="702.50" cy="289.75" r="125.50" fill="none" stroke="#8a8a8a" stroke-width="0.6"/>
<circle cx="702.50" cy="289.75" r="156.88" fill="none" stroke="#c2c2c2" stroke-width="0.6" stroke-dasharray="2.6,1.5"/>
<circle cx="702.50" cy="289.75" r="188.25" fill="none" stroke="#8a8a8a" stroke-width="0.6"/>
<circle cx="702.50" cy="289.75" r="219.62" fill="none" stroke="#c2c2c2" stroke-width="0.6" stroke-dasharray="2.6,1.5"/>
<circle cx="702.50" cy="289.75" r="251.00" fill="none" stroke="#8a8a8a" stroke-width="0.6"/>
<circle cx="702.50" cy="289.75" r="282.38" fill="none" stroke="#c2c2c2" stroke-width="0.6" stroke-dasharray="2.6,1.5"/>
<circle cx="702.50" cy="289.75" r="313.75" fill="none" stroke="#8a8a8a" stroke-width="0.6"/>
<circle cx="702.50" cy="289.75" r="345.12" fill="none" stroke="#c2c2c2" stroke-width="0.6" stroke-dasharray="2.6,1.5"/>
<circle cx="702.50" cy="289.75" r="376.50" fill="none" stroke="#8a8a8a" stroke-width="0.6"/>
<circle cx="702.50" cy="289.75" r="407.88" fill="none" stroke="#c2c2c2" stroke-width="0.6" stroke-dasharray="2.6,1.5"/>
<circle cx="702.50" cy="289.75" r="439.25" fill="none" stroke="#8a8a8a" stroke-width="0.6"/>
<circle cx="702.50" cy="289.75" r="470.62" fill="none" stroke="#c2c2c2" stroke-width="0.6" stroke-dasharray="2.6,1.5"/>
<circle cx="702.50" cy="289.75" r="502.00" fill="none" stroke="#8a8a8a" stroke-width="0.6"/>
<circle cx="702.50" cy="289.75" r="533.38" fill="none" stroke="#c2c2c2" stroke-width="0.6" stroke-dasharray="2.6,1.5"/>
<circle cx="702.50" cy="289.75" r="564.75" fill="none" stroke="#8a8a8a" stroke-width="0.6"/>
<circle cx="702.50" cy="289.75" r="596.12" fill="none" stroke="#c2c2c2" stroke-width="0.6" stroke-dasharray="2.6,1.5"/>
<line x1="580.30" y1="289.75" x2="1007.60" y2="289.75" stroke="#9a9a9a" stroke-width="0.7" stroke-dasharray="2.2,0.8"/>
<line x1="702.50" y1="41.20" x2="702.50" y2="502.50" stroke="#9a9a9a" stroke-width="0.7" stroke-dasharray="2.2,0.8"/>
<text x="734.47" y="289.34" font-size="6.27" fill="#b9b9b9" textLength="8.02" lengthAdjust="spacingAndGlyphs" >10</text>
<text x="703.29" y="257.92" font-size="6.27" fill="#b9b9b9" textLength="8.02" lengthAdjust="spacingAndGlyphs" >10</text>
<text x="671.62" y="289.34" font-size="6.27" fill="#b9b9b9" textLength="8.02" lengthAdjust="spacingAndGlyphs" >10</text>
<text x="703.29" y="320.67" font-size="6.27" fill="#b9b9b9" textLength="8.02" lengthAdjust="spacingAndGlyphs" >10</text>
<text x="797.22" y="289.34" font-size="6.27" fill="#b9b9b9" textLength="8.02" lengthAdjust="spacingAndGlyphs" >30</text>
<text x="703.29" y="195.17" font-size="6.27" fill="#b9b9b9" textLength="8.02" lengthAdjust="spacingAndGlyphs" >30</text>
<text x="608.87" y="289.34" font-size="6.27" fill="#b9b9b9" textLength="8.02" lengthAdjust="spacingAndGlyphs" >30</text>
<text x="703.29" y="383.42" font-size="6.27" fill="#b9b9b9" textLength="8.02" lengthAdjust="spacingAndGlyphs" >30</text>
<text x="859.97" y="289.34" font-size="6.27" fill="#b9b9b9" textLength="8.02" lengthAdjust="spacingAndGlyphs" >50</text>
<text x="703.29" y="132.42" font-size="6.27" fill="#b9b9b9" textLength="8.02" lengthAdjust="spacingAndGlyphs" >50</text>
<text x="703.29" y="446.17" font-size="6.27" fill="#b9b9b9" textLength="8.02" lengthAdjust="spacingAndGlyphs" >50</text>
<text x="922.72" y="289.34" font-size="6.27" fill="#b9b9b9" textLength="8.02" lengthAdjust="spacingAndGlyphs" >70</text>
<text x="703.29" y="69.67" font-size="6.27" fill="#b9b9b9" textLength="8.02" lengthAdjust="spacingAndGlyphs" >70</text>
<text x="985.47" y="289.34" font-size="6.27" fill="#b9b9b9" textLength="8.02" lengthAdjust="spacingAndGlyphs" >90</text>
<text x="703.29" y="6.92" font-size="6.27" fill="#b9b9b9" textLength="8.02" lengthAdjust="spacingAndGlyphs" >90</text>
<line x1="695.80" y1="239.80" x2="752.80" y2="285.20" stroke="#a9d9ec" stroke-width="1.3" />
<line x1="702.80" y1="289.80" x2="750.50" y2="285.50" stroke="#9a9a9a" stroke-width="1.1" />
<polygon points="754.5,285.1 749.8,283.6 750.3,287.4" fill="#9a9a9a"/>
<polyline points="904.2,232.0 920.0,237.5 945.0,242.5 951.2,246.2 953.2,251.8 958.0,267.5" fill="none" stroke="#ffe98a" stroke-width="4.3" stroke-linecap="butt" stroke-linejoin="round"/>
<polyline points="899.5,215.8 890.0,213.8 877.5,211.2 868.8,211.2 872.5,217.5 877.5,224.5 888.0,227.5 904.2,232.0" fill="none" stroke="#ffd000" stroke-width="4.3" stroke-linecap="butt" stroke-linejoin="round"/>
<polyline points="702.0,230.2 711.4,232.0 714.5,235.2 715.3,242.2 714.5,251.6 711.4,262.5 707.5,273.4 705.2,281.0 702.0,275.0 693.4,265.6 689.0,261.7 686.4,254.7 687.2,248.8" fill="none" stroke="#ff0000" stroke-width="4.3" stroke-linecap="butt" stroke-linejoin="round"/>
<polyline points="689.0,261.7 716.9,278.1 719.2,283.6 760.3,265.3 792.5,251.2 844.5,235.0 877.5,222.5 896.2,218.8 899.5,215.8" fill="none" stroke="#ff8800" stroke-width="4.3" stroke-linecap="butt" stroke-linejoin="round"/>
<polyline points="692.7,238.3 700.5,214.8 702.5,213.3 703.1,220.3 707.5,224.2 713.8,225.3" fill="none" stroke="#800090" stroke-width="4.3" stroke-linecap="butt" stroke-linejoin="round"/>
<circle cx="702.80" cy="220.00" r="4.00" fill="#fff" stroke="#000" stroke-width="0.8"/><text x="699.41" y="222.14" font-size="6.27" fill="#000" font-weight="bold" stroke="#000" stroke-width="0.26" stroke-linejoin="round" textLength="6.78" lengthAdjust="spacingAndGlyphs" >.5</text>
<circle cx="714.00" cy="225.50" r="4.00" fill="#fff" stroke="#000" stroke-width="0.8"/><text x="711.81" y="227.64" font-size="6.27" fill="#000" font-weight="bold" stroke="#000" stroke-width="0.26" stroke-linejoin="round" >1</text>
<circle cx="715.80" cy="242.50" r="4.00" fill="#fff" stroke="#000" stroke-width="0.8"/><text x="713.61" y="244.64" font-size="6.27" fill="#000" font-weight="bold" stroke="#000" stroke-width="0.26" stroke-linejoin="round" >2</text>
<circle cx="689.00" cy="261.70" r="4.00" fill="#fff" stroke="#000" stroke-width="0.8"/><text x="686.81" y="263.84" font-size="6.27" fill="#000" font-weight="bold" stroke="#000" stroke-width="0.26" stroke-linejoin="round" >3</text>
<circle cx="760.50" cy="265.20" r="4.00" fill="#fff" stroke="#000" stroke-width="0.8"/><text x="758.31" y="267.34" font-size="6.27" fill="#000" font-weight="bold" stroke="#000" stroke-width="0.26" stroke-linejoin="round" >4</text>
<circle cx="844.50" cy="235.00" r="4.00" fill="#fff" stroke="#000" stroke-width="0.8"/><text x="842.31" y="237.14" font-size="6.27" fill="#000" font-weight="bold" stroke="#000" stroke-width="0.26" stroke-linejoin="round" >5</text>
<circle cx="899.50" cy="215.75" r="4.00" fill="#fff" stroke="#000" stroke-width="0.8"/><text x="897.31" y="217.89" font-size="6.27" fill="#000" font-weight="bold" stroke="#000" stroke-width="0.26" stroke-linejoin="round" >6</text>
<circle cx="872.50" cy="217.50" r="4.00" fill="#fff" stroke="#000" stroke-width="0.8"/><text x="870.31" y="219.64" font-size="6.27" fill="#000" font-weight="bold" stroke="#000" stroke-width="0.26" stroke-linejoin="round" >7</text>
<circle cx="888.00" cy="227.50" r="4.00" fill="#fff" stroke="#000" stroke-width="0.8"/><text x="885.81" y="229.64" font-size="6.27" fill="#000" font-weight="bold" stroke="#000" stroke-width="0.26" stroke-linejoin="round" >8</text>
<circle cx="904.25" cy="232.00" r="4.00" fill="#fff" stroke="#000" stroke-width="0.8"/><text x="902.06" y="234.14" font-size="6.27" fill="#000" font-weight="bold" stroke="#000" stroke-width="0.26" stroke-linejoin="round" >9</text>
<circle cx="953.25" cy="251.75" r="4.00" fill="#fff" stroke="#000" stroke-width="0.8"/><text x="948.87" y="253.89" font-size="6.27" fill="#000" font-weight="bold" stroke="#000" stroke-width="0.26" stroke-linejoin="round" textLength="8.77" lengthAdjust="spacingAndGlyphs" >11</text>
<text x="750.80" y="194.83" font-size="7.56" fill="#000" font-weight="bold" stroke="#000" stroke-width="0.32" stroke-linejoin="round" textLength="12.41" lengthAdjust="spacingAndGlyphs" >LM</text>
<text x="786.53" y="245.58" font-size="7.56" fill="#000" font-weight="bold" stroke="#000" stroke-width="0.32" stroke-linejoin="round" textLength="15.95" lengthAdjust="spacingAndGlyphs" >MW</text>
<text x="755.49" y="286.48" font-size="7.56" fill="#000" font-weight="bold" stroke="#000" stroke-width="0.32" stroke-linejoin="round" textLength="13.42" lengthAdjust="spacingAndGlyphs" >RM</text>
<text x="718.23" y="249.74" font-size="5.37" fill="#a83c3c" font-weight="bold" stroke="#a83c3c" stroke-width="0.23" stroke-linejoin="round" textLength="13.54" lengthAdjust="spacingAndGlyphs" >DTM</text>
<polygon points="722.8,253.8 727.4,253.8 725.1,257.9" fill="#a83c3c"/>
<text x="791.43" y="305.44" font-size="6.27" fill="#ffc36b" font-weight="bold" stroke="#ffc36b" stroke-width="0.26" stroke-linejoin="round" textLength="9.73" lengthAdjust="spacingAndGlyphs" >UP</text>
<text x="888.05" y="256.44" font-size="6.27" fill="#ffcf8a" font-weight="bold" stroke="#ffcf8a" stroke-width="0.26" stroke-linejoin="round" textLength="10.50" lengthAdjust="spacingAndGlyphs" >DN</text>
<text x="589.75" y="51.94" font-size="8.60" fill="#5a5a5a" font-weight="bold" stroke="#5a5a5a" stroke-width="0.36" stroke-linejoin="round" textLength="154.09" lengthAdjust="spacingAndGlyphs" >SM: RIGHT MOVING | E @ 16 kts</text>
<text x="589.00" y="64.69" font-size="8.60" fill="#6e6e6e" textLength="65.34" lengthAdjust="spacingAndGlyphs" >RM: E @ 16 kts</text>
<text x="589.00" y="80.94" font-size="8.60" fill="#6e6e6e" textLength="77.08" lengthAdjust="spacingAndGlyphs" >LM: NNE @ 34 kts</text>
<text x="589.00" y="97.69" font-size="8.60" fill="#6e6e6e" textLength="79.30" lengthAdjust="spacingAndGlyphs" >MW: ENE @ 30 kts</text>
<text x="586.50" y="113.94" font-size="8.60" fill="#6e6e6e" textLength="84.19" lengthAdjust="spacingAndGlyphs" >DTM: NNE @ 13 kts</text>
<text x="589.00" y="130.19" font-size="8.60" fill="#6e6e6e" textLength="63.69" lengthAdjust="spacingAndGlyphs" >US: E @ 30 kts</text>
<text x="589.00" y="146.44" font-size="8.60" fill="#6e6e6e" textLength="64.02" lengthAdjust="spacingAndGlyphs" >DS: E @ 61 kts</text>
</g>
<rect x="580.30" y="41.20" width="427.30" height="461.30" fill="none" stroke="#555" stroke-width="0.9" />
<rect x="580.50" y="394.20" width="108.30" height="108.30" fill="#fff" stroke="none" stroke-width="1" />
<clipPath id="mclip"><rect x="580.50" y="394.20" width="108.30" height="108.30"/></clipPath>
<g clip-path="url(#mclip)">
<polyline points="580.0,401.5 598.3,401.5" fill="none" stroke="#dedede" stroke-width="0.6" />
<polyline points="594.0,408.0 613.3,408.0" fill="none" stroke="#dedede" stroke-width="0.6" />
<polyline points="624.0,408.0 644.5,408.0" fill="none" stroke="#dedede" stroke-width="0.6" />
<polyline points="612.2,413.3 627.3,413.3" fill="none" stroke="#dedede" stroke-width="0.6" />
<polyline points="594.0,419.2 612.2,419.2" fill="none" stroke="#dedede" stroke-width="0.6" />
<polyline points="627.3,418.7 644.5,418.7" fill="none" stroke="#dedede" stroke-width="0.6" />
<polyline points="658.4,411.7 667.0,411.7 668.1,415.5 676.7,415.5" fill="none" stroke="#dedede" stroke-width="0.6" />
<polyline points="598.3,394.0 598.3,408.0" fill="none" stroke="#dedede" stroke-width="0.6" />
<polyline points="612.2,394.0 612.2,426.2" fill="none" stroke="#dedede" stroke-width="0.6" />
<polyline points="624.0,394.0 624.0,413.3" fill="none" stroke="#dedede" stroke-width="0.6" />
<polyline points="638.5,394.0 638.5,405.8 644.5,405.8" fill="none" stroke="#dedede" stroke-width="0.6" />
<polyline points="648.8,394.0 648.8,406.9" fill="none" stroke="#dedede" stroke-width="0.6" />
<polyline points="657.3,394.0 656.8,403.7 658.4,412.3 658.4,425.1" fill="none" stroke="#dedede" stroke-width="0.6" />
<polyline points="670.2,394.0 670.2,400.4 668.1,404.7 668.1,415.5" fill="none" stroke="#dedede" stroke-width="0.6" />
<polyline points="687.4,396.1 687.4,449.0" fill="none" stroke="#dedede" stroke-width="0.6" />
<polyline points="594.0,408.0 594.0,418.7 597.7,420.3 598.3,426.2" fill="none" stroke="#dedede" stroke-width="0.6" />
<polyline points="627.3,413.3 627.3,429.4" fill="none" stroke="#dedede" stroke-width="0.6" />
<polyline points="644.5,405.8 644.5,426.2 654.1,427.3 654.1,432.7" fill="none" stroke="#dedede" stroke-width="0.6" />
<polyline points="676.7,415.5 676.7,429.4 671.3,429.4" fill="none" stroke="#dedede" stroke-width="0.6" />
<polyline points="633.7,418.7 633.7,421.9 644.5,421.9" fill="none" stroke="#dedede" stroke-width="0.6" />
<polyline points="638.0,414.9 646.6,415.5" fill="none" stroke="#dedede" stroke-width="0.6" />
<polyline points="580.0,409.0 584.3,409.0 584.8,413.9 582.1,419.8" fill="none" stroke="#dedede" stroke-width="0.6" />
<polyline points="670.2,400.4 684.2,397.2 687.4,396.1" fill="none" stroke="#dedede" stroke-width="0.6" />
<polyline points="624.6,396.1 631.6,400.4 633.7,405.8 638.5,405.8" fill="none" stroke="#dedede" stroke-width="0.6" />
<polyline points="589.1,426.2 589.1,449.0" fill="none" stroke="#dedede" stroke-width="0.6" />
<polyline points="604.2,430.5 604.2,449.0" fill="none" stroke="#dedede" stroke-width="0.6" />
<polyline points="616.5,435.9 616.5,449.0" fill="none" stroke="#dedede" stroke-width="0.6" />
<polyline points="629.4,437.0 629.4,449.0" fill="none" stroke="#dedede" stroke-width="0.6" />
<polyline points="644.5,437.0 644.5,449.0" fill="none" stroke="#dedede" stroke-width="0.6" />
<polyline points="659.5,440.2 659.5,449.0" fill="none" stroke="#dedede" stroke-width="0.6" />
<polyline points="673.5,435.9 673.5,449.0" fill="none" stroke="#dedede" stroke-width="0.6" />
<polyline points="580.0,435.9 604.2,435.9" fill="none" stroke="#dedede" stroke-width="0.6" />
<polyline points="589.1,446.6 616.5,446.6" fill="none" stroke="#dedede" stroke-width="0.6" />
<polyline points="644.5,441.3 659.5,441.3" fill="none" stroke="#dedede" stroke-width="0.6" />
<polyline points="580.0,459.8 661.6,459.8" fill="none" stroke="#dedede" stroke-width="0.6" />
<polyline points="589.1,448.0 589.1,459.8" fill="none" stroke="#dedede" stroke-width="0.6" />
<polyline points="604.2,448.0 604.2,459.8" fill="none" stroke="#dedede" stroke-width="0.6" />
<polyline points="617.6,448.0 617.6,459.8" fill="none" stroke="#dedede" stroke-width="0.6" />
<polyline points="632.6,448.0 632.6,459.8" fill="none" stroke="#dedede" stroke-width="0.6" />
<polyline points="647.1,448.0 647.1,459.8" fill="none" stroke="#dedede" stroke-width="0.6" />
<polyline points="661.6,448.0 661.6,463.0" fill="none" stroke="#dedede" stroke-width="0.6" />
<polyline points="673.5,448.0 673.5,459.8 687.4,460.4" fill="none" stroke="#dedede" stroke-width="0.6" />
<polyline points="580.0,471.6 655.2,471.6" fill="none" stroke="#dedede" stroke-width="0.6" />
<polyline points="585.4,459.8 585.4,483.4" fill="none" stroke="#dedede" stroke-width="0.6" />
<polyline points="599.9,459.8 599.9,471.6" fill="none" stroke="#dedede" stroke-width="0.6" />
<polyline points="613.8,459.8 613.8,472.2" fill="none" stroke="#dedede" stroke-width="0.6" />
<polyline points="627.8,459.8 627.8,471.6" fill="none" stroke="#dedede" stroke-width="0.6" />
<polyline points="641.2,459.8 641.2,471.6" fill="none" stroke="#dedede" stroke-width="0.6" />
<polyline points="655.2,459.8 655.2,471.6" fill="none" stroke="#dedede" stroke-width="0.6" />
<polyline points="667.5,463.0 667.5,477.0" fill="none" stroke="#dedede" stroke-width="0.6" />
<polyline points="655.2,463.0 679.9,463.0" fill="none" stroke="#dedede" stroke-width="0.6" />
<polyline points="659.5,477.0 683.1,476.5" fill="none" stroke="#dedede" stroke-width="0.6" />
<polyline points="679.9,460.4 681.0,469.5 684.7,477.0 685.8,503.0" fill="none" stroke="#dedede" stroke-width="0.6" />
<polyline points="671.3,462.0 676.7,465.2 681.0,469.5" fill="none" stroke="#dedede" stroke-width="0.6" />
<polyline points="602.6,471.6 602.6,479.1" fill="none" stroke="#dedede" stroke-width="0.6" />
<polyline points="625.6,471.6 625.6,480.2" fill="none" stroke="#dedede" stroke-width="0.6" />
<polyline points="640.7,471.6 640.7,479.1" fill="none" stroke="#dedede" stroke-width="0.6" />
<polyline points="590.7,484.5 600.4,479.7 602.6,479.1" fill="none" stroke="#dedede" stroke-width="0.6" />
<polyline points="606.9,491.0 625.1,480.8 640.7,479.1" fill="none" stroke="#dedede" stroke-width="0.6" />
<polyline points="596.1,494.2 611.1,487.8" fill="none" stroke="#dedede" stroke-width="0.6" />
<polyline points="600.4,479.7 606.9,491.0 611.1,495.3 615.5,503.0" fill="none" stroke="#dedede" stroke-width="0.6" />
<polyline points="613.8,472.2 618.1,481.3 623.0,495.3 627.3,503.0" fill="none" stroke="#dedede" stroke-width="0.6" />
<polyline points="630.0,482.4 630.5,487.8 633.7,493.1 641.2,491.0 649.8,503.0" fill="none" stroke="#dedede" stroke-width="0.6" />
<polyline points="640.7,479.1 645.5,484.5 650.9,492.0 657.3,503.0" fill="none" stroke="#dedede" stroke-width="0.6" />
<polyline points="655.2,471.6 659.5,477.5 665.9,481.3 669.2,491.0 676.7,498.5 677.8,503.0" fill="none" stroke="#dedede" stroke-width="0.6" />
<polyline points="645.5,484.5 659.5,478.1" fill="none" stroke="#dedede" stroke-width="0.6" />
<polyline points="650.9,492.0 668.1,486.1 685.3,483.4" fill="none" stroke="#dedede" stroke-width="0.6" />
<polyline points="657.3,498.5 669.2,491.0" fill="none" stroke="#dedede" stroke-width="0.6" />
<polyline points="580.0,484.5 590.7,484.5 596.1,494.2 586.5,499.6 580.0,501.7" fill="none" stroke="#dedede" stroke-width="0.6" />
<polyline points="596.1,494.2 602.6,495.3 607.9,503.0" fill="none" stroke="#dedede" stroke-width="0.6" />
<polyline points="611.1,495.3 623.0,495.3" fill="none" stroke="#dedede" stroke-width="0.6" />
<polyline points="623.0,495.3 633.7,493.1" fill="none" stroke="#dedede" stroke-width="0.6" />
<polyline points="627.3,503.0 641.2,491.0" fill="none" stroke="#dedede" stroke-width="0.6" />
<polyline points="580.0,501.7 586.5,499.6" fill="none" stroke="#dedede" stroke-width="0.6" />
<polyline points="676.7,498.5 687.4,495.3" fill="none" stroke="#dedede" stroke-width="0.6" />
<polyline points="617.6,477.5 625.6,477.0" fill="none" stroke="#dedede" stroke-width="0.6" />
<polyline points="580.0,420.3 582.1,422.5 583.2,425.7 588.6,426.0 591.8,427.5 596.1,428.4 598.8,427.5 602.6,430.0 605.2,428.4 612.2,428.2 613.3,431.1 617.1,432.1 617.6,435.4 619.8,435.7 624.6,432.1 626.2,432.7 627.3,434.6 631.6,436.4 636.4,434.8 638.0,438.6 639.6,439.1 640.7,436.4 643.9,433.2 646.1,434.8 650.4,435.9 652.5,434.6 655.2,437.0 659.0,438.6 661.1,440.0 665.9,436.4 669.2,436.1 671.3,434.8 674.5,435.9 680.4,433.5 683.1,435.0 688.5,435.0" fill="none" stroke="#262626" stroke-width="1.6" stroke-linejoin="round"/>
<circle cx="634.50" cy="464.40" r="3.1" fill="none" stroke="#000" stroke-width="1.0"/>
<line x1="629.10" y1="464.40" x2="639.90" y2="464.40" stroke="#000" stroke-width="0.9" />
<line x1="634.50" y1="459.00" x2="634.50" y2="469.80" stroke="#000" stroke-width="0.9" />
</g>
<rect x="580.50" y="394.20" width="108.30" height="108.30" fill="none" stroke="#555" stroke-width="0.9" />
<rect x="915.60" y="426.40" width="91.80" height="76.10" fill="#fff" stroke="#555" stroke-width="0.9" />
<text x="923.00" y="438.00" font-size="7.26" fill="#000" font-weight="bold" stroke="#000" stroke-width="0.31" stroke-linejoin="round" textLength="13.19" lengthAdjust="spacingAndGlyphs" >0-3</text>
<text x="936.49" y="438.30" font-size="4.68" fill="#000" font-weight="bold" stroke="#000" stroke-width="0.20" stroke-linejoin="round" textLength="8.02" lengthAdjust="spacingAndGlyphs" >km</text>
<text x="948.00" y="438.00" font-size="7.26" fill="#000" font-weight="bold" stroke="#000" stroke-width="0.31" stroke-linejoin="round" textLength="19.76" lengthAdjust="spacingAndGlyphs" >SRH,</text>
<text x="976.80" y="438.00" font-size="7.26" fill="#000" font-weight="bold" stroke="#000" stroke-width="0.31" stroke-linejoin="round" textLength="19.28" lengthAdjust="spacingAndGlyphs" >BWD</text>
<text x="923.00" y="463.30" font-size="7.26" fill="#000" font-weight="bold" stroke="#000" stroke-width="0.31" stroke-linejoin="round" textLength="13.19" lengthAdjust="spacingAndGlyphs" >0-6</text>
<text x="936.49" y="463.60" font-size="4.68" fill="#000" font-weight="bold" stroke="#000" stroke-width="0.20" stroke-linejoin="round" textLength="8.02" lengthAdjust="spacingAndGlyphs" >km</text>
<text x="948.00" y="463.30" font-size="7.26" fill="#000" font-weight="bold" stroke="#000" stroke-width="0.31" stroke-linejoin="round" textLength="19.76" lengthAdjust="spacingAndGlyphs" >SRH,</text>
<text x="976.80" y="463.30" font-size="7.26" fill="#000" font-weight="bold" stroke="#000" stroke-width="0.31" stroke-linejoin="round" textLength="19.28" lengthAdjust="spacingAndGlyphs" >BWD</text>
<text x="926.14" y="451.00" font-size="7.26" fill="#4169e1" font-weight="bold" stroke="#4169e1" stroke-width="0.31" stroke-linejoin="round" textLength="33.71" lengthAdjust="spacingAndGlyphs" >10 m²/s²</text>
<text x="978.02" y="451.00" font-size="7.26" fill="#4169e1" font-weight="bold" stroke="#4169e1" stroke-width="0.31" stroke-linejoin="round" textLength="15.97" lengthAdjust="spacingAndGlyphs" >7 kt</text>
<text x="926.14" y="474.40" font-size="7.26" fill="#4169e1" font-weight="bold" stroke="#4169e1" stroke-width="0.31" stroke-linejoin="round" textLength="33.71" lengthAdjust="spacingAndGlyphs" >79 m²/s²</text>
<text x="975.48" y="474.40" font-size="7.26" fill="#4169e1" font-weight="bold" stroke="#4169e1" stroke-width="0.31" stroke-linejoin="round" textLength="21.04" lengthAdjust="spacingAndGlyphs" >66 kt</text>
<text x="920.33" y="487.80" font-size="7.16" fill="#000" font-weight="bold" stroke="#000" stroke-width="0.30" stroke-linejoin="round" textLength="15.75" lengthAdjust="spacingAndGlyphs" >SCP</text>
<text x="943.11" y="487.80" font-size="7.16" fill="#000" font-weight="bold" stroke="#000" stroke-width="0.30" stroke-linejoin="round" textLength="15.37" lengthAdjust="spacingAndGlyphs" >STP</text>
<text x="967.49" y="486.70" font-size="7.16" fill="#000" font-weight="bold" stroke="#000" stroke-width="0.30" stroke-linejoin="round" textLength="13.62" lengthAdjust="spacingAndGlyphs" >EHI</text>
<text x="990.29" y="486.70" font-size="7.16" fill="#000" font-weight="bold" stroke="#000" stroke-width="0.30" stroke-linejoin="round" textLength="13.62" lengthAdjust="spacingAndGlyphs" >EHI</text>
<text x="966.80" y="491.40" font-size="3.28" fill="#000" font-weight="bold" stroke="#000" stroke-width="0.14" stroke-linejoin="round" textLength="15.00" lengthAdjust="spacingAndGlyphs" >0–1km</text>
<text x="989.60" y="491.40" font-size="3.28" fill="#000" font-weight="bold" stroke="#000" stroke-width="0.14" stroke-linejoin="round" textLength="15.00" lengthAdjust="spacingAndGlyphs" >0–3km</text>
<text x="926.00" y="498.40" font-size="7.16" fill="#b04040" font-weight="bold" stroke="#b04040" stroke-width="0.30" stroke-linejoin="round" >0</text>
<text x="948.50" y="498.40" font-size="7.16" fill="#b04040" font-weight="bold" stroke="#b04040" stroke-width="0.30" stroke-linejoin="round" >0</text>
<text x="972.00" y="498.40" font-size="7.16" fill="#ff7f32" font-weight="bold" stroke="#ff7f32" stroke-width="0.30" stroke-linejoin="round" >0</text>
<text x="994.50" y="498.40" font-size="7.16" fill="#ff7f32" font-weight="bold" stroke="#ff7f32" stroke-width="0.30" stroke-linejoin="round" >0</text>
<rect x="13.25" y="502.50" width="373.15" height="97.80" fill="#fff" stroke="#555" stroke-width="0.9" />
<text x="55.57" y="519.20" font-size="8.46" fill="#000" font-weight="bold" stroke="#000" stroke-width="0.36" stroke-linejoin="round" textLength="46.85" lengthAdjust="spacingAndGlyphs" >SR-ECAPE</text>
<text x="124.37" y="519.20" font-size="8.46" fill="#000" font-weight="bold" stroke="#000" stroke-width="0.36" stroke-linejoin="round" textLength="24.85" lengthAdjust="spacingAndGlyphs" >CAPE</text>
<text x="177.12" y="519.20" font-size="8.46" fill="#000" font-weight="bold" stroke="#000" stroke-width="0.36" stroke-linejoin="round" textLength="30.77" lengthAdjust="spacingAndGlyphs" >6CAPE</text>
<text x="236.12" y="519.20" font-size="8.46" fill="#000" font-weight="bold" stroke="#000" stroke-width="0.36" stroke-linejoin="round" textLength="30.77" lengthAdjust="spacingAndGlyphs" >3CAPE</text>
<text x="297.54" y="519.20" font-size="8.46" fill="#000" font-weight="bold" stroke="#000" stroke-width="0.36" stroke-linejoin="round" textLength="16.51" lengthAdjust="spacingAndGlyphs" >CIN</text>
<text x="350.46" y="519.20" font-size="8.46" fill="#000" font-weight="bold" stroke="#000" stroke-width="0.36" stroke-linejoin="round" textLength="17.07" lengthAdjust="spacingAndGlyphs" >LCL</text>
<text x="19.00" y="535.80" font-size="8.46" fill="#000" font-weight="bold" stroke="#000" stroke-width="0.36" stroke-linejoin="round" textLength="16.00" lengthAdjust="spacingAndGlyphs" >SB:</text>
<text x="19.00" y="552.00" font-size="8.46" fill="#000" font-weight="bold" stroke="#000" stroke-width="0.36" stroke-linejoin="round" textLength="18.76" lengthAdjust="spacingAndGlyphs" >MU:</text>
<text x="19.00" y="568.20" font-size="8.46" fill="#000" font-weight="bold" stroke="#000" stroke-width="0.36" stroke-linejoin="round" textLength="17.27" lengthAdjust="spacingAndGlyphs" >ML:</text>
<text x="55.50" y="535.80" font-size="8.46" fill="#b22222" font-weight="bold" stroke="#b22222" stroke-width="0.36" stroke-linejoin="round" textLength="44.62" lengthAdjust="spacingAndGlyphs" >1216 J/kg</text>
<text x="115.50" y="535.80" font-size="8.46" fill="#ff4500" font-weight="bold" stroke="#ff4500" stroke-width="0.36" stroke-linejoin="round" textLength="44.62" lengthAdjust="spacingAndGlyphs" >1765 J/kg</text>
<text x="174.60" y="535.80" font-size="8.46" fill="#ff4500" font-weight="bold" stroke="#ff4500" stroke-width="0.36" stroke-linejoin="round" textLength="38.71" lengthAdjust="spacingAndGlyphs" >476 J/kg</text>
<text x="234.20" y="535.80" font-size="8.46" fill="#ff4500" font-weight="bold" stroke="#ff4500" stroke-width="0.36" stroke-linejoin="round" textLength="32.79" lengthAdjust="spacingAndGlyphs" >11 J/kg</text>
<text x="289.70" y="535.80" font-size="8.46" fill="#ff4500" font-weight="bold" stroke="#ff4500" stroke-width="0.36" stroke-linejoin="round" textLength="36.32" lengthAdjust="spacingAndGlyphs" >-21 J/kg</text>
<text x="344.70" y="535.80" font-size="8.46" fill="#ff4500" font-weight="bold" stroke="#ff4500" stroke-width="0.36" stroke-linejoin="round" textLength="35.47" lengthAdjust="spacingAndGlyphs" >1911 m</text>
<text x="55.50" y="552.00" font-size="8.46" fill="#b22222" font-weight="bold" stroke="#b22222" stroke-width="0.36" stroke-linejoin="round" textLength="44.62" lengthAdjust="spacingAndGlyphs" >1216 J/kg</text>
<text x="115.50" y="552.00" font-size="8.46" fill="#ff4500" font-weight="bold" stroke="#ff4500" stroke-width="0.36" stroke-linejoin="round" textLength="44.62" lengthAdjust="spacingAndGlyphs" >1765 J/kg</text>
<text x="174.60" y="552.00" font-size="8.46" fill="#ff4500" font-weight="bold" stroke="#ff4500" stroke-width="0.36" stroke-linejoin="round" textLength="38.71" lengthAdjust="spacingAndGlyphs" >476 J/kg</text>
<text x="234.20" y="552.00" font-size="8.46" fill="#ff4500" font-weight="bold" stroke="#ff4500" stroke-width="0.36" stroke-linejoin="round" textLength="32.79" lengthAdjust="spacingAndGlyphs" >11 J/kg</text>
<text x="289.70" y="552.00" font-size="8.46" fill="#ff4500" font-weight="bold" stroke="#ff4500" stroke-width="0.36" stroke-linejoin="round" textLength="36.32" lengthAdjust="spacingAndGlyphs" >-21 J/kg</text>
<text x="344.70" y="552.00" font-size="8.46" fill="#ff4500" font-weight="bold" stroke="#ff4500" stroke-width="0.36" stroke-linejoin="round" textLength="35.47" lengthAdjust="spacingAndGlyphs" >1911 m</text>
<text x="55.50" y="568.20" font-size="8.46" fill="#b22222" font-weight="bold" stroke="#b22222" stroke-width="0.36" stroke-linejoin="round" textLength="32.79" lengthAdjust="spacingAndGlyphs" >79 J/kg</text>
<text x="115.50" y="568.20" font-size="8.46" fill="#ff4500" font-weight="bold" stroke="#ff4500" stroke-width="0.36" stroke-linejoin="round" textLength="32.79" lengthAdjust="spacingAndGlyphs" >19 J/kg</text>
<text x="174.60" y="568.20" font-size="8.46" fill="#ff4500" font-weight="bold" stroke="#ff4500" stroke-width="0.36" stroke-linejoin="round" textLength="32.79" lengthAdjust="spacingAndGlyphs" >13 J/kg</text>
<text x="234.20" y="568.20" font-size="8.46" fill="#ff4500" font-weight="bold" stroke="#ff4500" stroke-width="0.36" stroke-linejoin="round" textLength="26.88" lengthAdjust="spacingAndGlyphs" >0 J/kg</text>
<text x="289.70" y="568.20" font-size="8.46" fill="#ff4500" font-weight="bold" stroke="#ff4500" stroke-width="0.36" stroke-linejoin="round" textLength="42.23" lengthAdjust="spacingAndGlyphs" >-307 J/kg</text>
<text x="344.70" y="568.20" font-size="8.46" fill="#ff4500" font-weight="bold" stroke="#ff4500" stroke-width="0.36" stroke-linejoin="round" textLength="35.47" lengthAdjust="spacingAndGlyphs" >2142 m</text>
<text x="19.00" y="582.70" font-size="8.46" fill="#000" font-weight="bold" stroke="#000" stroke-width="0.36" stroke-linejoin="round" textLength="35.31" lengthAdjust="spacingAndGlyphs" >DCAPE:</text>
<text x="60.00" y="582.70" font-size="8.46" fill="#9bb8f2" font-weight="bold" stroke="#9bb8f2" stroke-width="0.36" stroke-linejoin="round" textLength="44.62" lengthAdjust="spacingAndGlyphs" >1040 J/kg</text>
<text x="19.00" y="593.00" font-size="8.46" fill="#000" font-weight="bold" stroke="#000" stroke-width="0.36" stroke-linejoin="round" textLength="26.97" lengthAdjust="spacingAndGlyphs" >DCIN:</text>
<text x="60.00" y="593.00" font-size="8.46" fill="#9bb8f2" font-weight="bold" stroke="#9bb8f2" stroke-width="0.36" stroke-linejoin="round" textLength="26.88" lengthAdjust="spacingAndGlyphs" >0 J/kg</text>
<text x="120.00" y="590.10" font-size="8.46" fill="#000" font-weight="bold" stroke="#000" stroke-width="0.36" stroke-linejoin="round" textLength="50.73" lengthAdjust="spacingAndGlyphs" >MUNCAPE:</text>
<text x="173.30" y="590.10" font-size="8.46" fill="#c46a6a" font-weight="bold" stroke="#c46a6a" stroke-width="0.36" stroke-linejoin="round" textLength="15.06" lengthAdjust="spacingAndGlyphs" >0.2</text>
<text x="207.00" y="590.10" font-size="8.46" fill="#000" font-weight="bold" stroke="#000" stroke-width="0.36" stroke-linejoin="round" >Γ</text>
<text x="212.92" y="591.20" font-size="5.07" fill="#000" font-weight="bold" stroke="#000" stroke-width="0.21" stroke-linejoin="round" textLength="11.30" lengthAdjust="spacingAndGlyphs" >0–3</text>
<text x="225.60" y="590.10" font-size="8.46" fill="#000" font-weight="bold" stroke="#000" stroke-width="0.36" stroke-linejoin="round" >:</text>
<text x="234.60" y="590.10" font-size="8.46" fill="#8b4513" font-weight="bold" stroke="#8b4513" stroke-width="0.36" stroke-linejoin="round" textLength="43.55" lengthAdjust="spacingAndGlyphs" >7 Δ°C/km</text>
<text x="289.70" y="590.10" font-size="8.46" fill="#000" font-weight="bold" stroke="#000" stroke-width="0.36" stroke-linejoin="round" >Γ</text>
<text x="295.62" y="591.20" font-size="5.07" fill="#000" font-weight="bold" stroke="#000" stroke-width="0.21" stroke-linejoin="round" textLength="11.30" lengthAdjust="spacingAndGlyphs" >3–6</text>
<text x="308.30" y="590.10" font-size="8.46" fill="#000" font-weight="bold" stroke="#000" stroke-width="0.36" stroke-linejoin="round" >:</text>
<text x="320.20" y="590.10" font-size="8.46" fill="#8b4513" font-weight="bold" stroke="#8b4513" stroke-width="0.36" stroke-linejoin="round" textLength="43.55" lengthAdjust="spacingAndGlyphs" >7 Δ°C/km</text>
<rect x="386.40" y="502.50" width="137.20" height="124.70" fill="#fff" stroke="#555" stroke-width="0.9" />
<text x="435.03" y="519.20" font-size="8.46" fill="#000" font-weight="bold" stroke="#000" stroke-width="0.36" stroke-linejoin="round" textLength="29.95" lengthAdjust="spacingAndGlyphs" >RH(%)</text>
<text x="486.61" y="519.20" font-size="8.46" fill="#000" font-weight="bold" stroke="#000" stroke-width="0.36" stroke-linejoin="round" >ω</text>
<text x="395.40" y="535.80" font-size="8.46" fill="#000" font-weight="bold" stroke="#000" stroke-width="0.36" stroke-linejoin="round" textLength="18.59" lengthAdjust="spacingAndGlyphs" >0-.5</text>
<text x="414.39" y="536.20" font-size="5.58" fill="#000" font-weight="bold" stroke="#000" stroke-width="0.24" stroke-linejoin="round" textLength="9.58" lengthAdjust="spacingAndGlyphs" >km</text>
<text x="424.16" y="535.80" font-size="8.46" fill="#000" font-weight="bold" stroke="#000" stroke-width="0.36" stroke-linejoin="round" >:</text>
<line x1="395.40" y1="526.10" x2="409.00" y2="526.10" stroke="#000" stroke-width="1.0" />
<text x="436.60" y="535.80" font-size="8.46" fill="#2d912d" font-weight="bold" stroke="#2d912d" stroke-width="0.36" stroke-linejoin="round" textLength="23.30" lengthAdjust="spacingAndGlyphs" >40 %</text>
<text x="468.80" y="535.80" font-size="8.46" fill="#2d912d" font-weight="bold" stroke="#2d912d" stroke-width="0.36" stroke-linejoin="round" textLength="44.86" lengthAdjust="spacingAndGlyphs" >10.4 g/kg</text>
<text x="395.40" y="552.00" font-size="8.46" fill="#000" font-weight="bold" stroke="#000" stroke-width="0.36" stroke-linejoin="round" textLength="15.36" lengthAdjust="spacingAndGlyphs" >0-1</text>
<text x="411.16" y="552.40" font-size="5.58" fill="#000" font-weight="bold" stroke="#000" stroke-width="0.24" stroke-linejoin="round" textLength="9.58" lengthAdjust="spacingAndGlyphs" >km</text>
<text x="420.93" y="552.00" font-size="8.46" fill="#000" font-weight="bold" stroke="#000" stroke-width="0.36" stroke-linejoin="round" >:</text>
<line x1="395.40" y1="542.30" x2="409.00" y2="542.30" stroke="#000" stroke-width="1.0" />
<text x="436.60" y="552.00" font-size="8.46" fill="#379637" font-weight="bold" stroke="#379637" stroke-width="0.36" stroke-linejoin="round" textLength="23.30" lengthAdjust="spacingAndGlyphs" >43 %</text>
<text x="468.80" y="552.00" font-size="8.46" fill="#379637" font-weight="bold" stroke="#379637" stroke-width="0.36" stroke-linejoin="round" textLength="44.86" lengthAdjust="spacingAndGlyphs" >10.0 g/kg</text>
<text x="395.40" y="568.20" font-size="8.46" fill="#000" font-weight="bold" stroke="#000" stroke-width="0.36" stroke-linejoin="round" textLength="15.36" lengthAdjust="spacingAndGlyphs" >1-3</text>
<text x="411.16" y="568.60" font-size="5.58" fill="#000" font-weight="bold" stroke="#000" stroke-width="0.24" stroke-linejoin="round" textLength="9.58" lengthAdjust="spacingAndGlyphs" >km</text>
<text x="420.93" y="568.20" font-size="8.46" fill="#000" font-weight="bold" stroke="#000" stroke-width="0.36" stroke-linejoin="round" >:</text>
<line x1="395.40" y1="558.50" x2="409.00" y2="558.50" stroke="#000" stroke-width="1.0" />
<text x="436.60" y="568.20" font-size="8.46" fill="#409b40" font-weight="bold" stroke="#409b40" stroke-width="0.36" stroke-linejoin="round" textLength="23.30" lengthAdjust="spacingAndGlyphs" >47 %</text>
<text x="468.80" y="568.20" font-size="8.46" fill="#409b40" font-weight="bold" stroke="#409b40" stroke-width="0.36" stroke-linejoin="round" textLength="38.94" lengthAdjust="spacingAndGlyphs" >6.7 g/kg</text>
<text x="395.40" y="584.50" font-size="8.46" fill="#000" font-weight="bold" stroke="#000" stroke-width="0.36" stroke-linejoin="round" textLength="15.36" lengthAdjust="spacingAndGlyphs" >3-6</text>
<text x="411.16" y="584.90" font-size="5.58" fill="#000" font-weight="bold" stroke="#000" stroke-width="0.24" stroke-linejoin="round" textLength="9.58" lengthAdjust="spacingAndGlyphs" >km</text>
<text x="420.93" y="584.50" font-size="8.46" fill="#000" font-weight="bold" stroke="#000" stroke-width="0.36" stroke-linejoin="round" >:</text>
<line x1="395.40" y1="574.80" x2="409.00" y2="574.80" stroke="#000" stroke-width="1.0" />
<text x="436.60" y="584.50" font-size="8.46" fill="#5aa85a" font-weight="bold" stroke="#5aa85a" stroke-width="0.36" stroke-linejoin="round" textLength="23.30" lengthAdjust="spacingAndGlyphs" >43 %</text>
<text x="468.80" y="584.50" font-size="8.46" fill="#5aa85a" font-weight="bold" stroke="#5aa85a" stroke-width="0.36" stroke-linejoin="round" textLength="38.94" lengthAdjust="spacingAndGlyphs" >2.4 g/kg</text>
<text x="395.40" y="600.80" font-size="8.46" fill="#000" font-weight="bold" stroke="#000" stroke-width="0.36" stroke-linejoin="round" textLength="15.36" lengthAdjust="spacingAndGlyphs" >6-9</text>
<text x="411.16" y="601.20" font-size="5.58" fill="#000" font-weight="bold" stroke="#000" stroke-width="0.24" stroke-linejoin="round" textLength="9.58" lengthAdjust="spacingAndGlyphs" >km</text>
<text x="420.93" y="600.80" font-size="8.46" fill="#000" font-weight="bold" stroke="#000" stroke-width="0.36" stroke-linejoin="round" >:</text>
<line x1="395.40" y1="591.10" x2="409.00" y2="591.10" stroke="#000" stroke-width="1.0" />
<text x="436.60" y="600.80" font-size="8.46" fill="#7fbd7f" font-weight="bold" stroke="#7fbd7f" stroke-width="0.36" stroke-linejoin="round" textLength="23.30" lengthAdjust="spacingAndGlyphs" >15 %</text>
<text x="468.80" y="600.80" font-size="8.46" fill="#7fbd7f" font-weight="bold" stroke="#7fbd7f" stroke-width="0.36" stroke-linejoin="round" textLength="38.94" lengthAdjust="spacingAndGlyphs" >0.3 g/kg</text>
<text x="395.90" y="612.80" font-size="6.62" fill="#000" font-weight="bold" stroke="#000" stroke-width="0.28" stroke-linejoin="round" textLength="23.37" lengthAdjust="spacingAndGlyphs" >PWAT:</text>
<text x="426.00" y="612.80" font-size="6.62" fill="#1f7a1f" font-weight="bold" stroke="#1f7a1f" stroke-width="0.28" stroke-linejoin="round" textLength="30.36" lengthAdjust="spacingAndGlyphs" >1.124 in</text>
<text x="466.00" y="612.80" font-size="6.62" fill="#000" font-weight="bold" stroke="#000" stroke-width="0.28" stroke-linejoin="round" textLength="15.06" lengthAdjust="spacingAndGlyphs" >WB:</text>
<text x="491.00" y="612.80" font-size="6.62" fill="#1f7a1f" font-weight="bold" stroke="#1f7a1f" stroke-width="0.28" stroke-linejoin="round" textLength="19.77" lengthAdjust="spacingAndGlyphs" >22 °C</text>
<text x="395.90" y="623.00" font-size="6.62" fill="#000" font-weight="bold" stroke="#000" stroke-width="0.28" stroke-linejoin="round" textLength="17.14" lengthAdjust="spacingAndGlyphs" >FRZ:</text>
<text x="428.20" y="623.00" font-size="6.62" fill="#6d9bf0" font-weight="bold" stroke="#6d9bf0" stroke-width="0.28" stroke-linejoin="round" textLength="25.44" lengthAdjust="spacingAndGlyphs" >4300m</text>
<text x="463.80" y="623.00" font-size="6.62" fill="#000" font-weight="bold" stroke="#000" stroke-width="0.28" stroke-linejoin="round" textLength="19.69" lengthAdjust="spacingAndGlyphs" >WB0:</text>
<text x="489.20" y="623.00" font-size="6.62" fill="#6d9bf0" font-weight="bold" stroke="#6d9bf0" stroke-width="0.28" stroke-linejoin="round" textLength="25.44" lengthAdjust="spacingAndGlyphs" >3100m</text>
<rect x="523.60" y="502.50" width="243.70" height="124.70" fill="#fff" stroke="#555" stroke-width="0.9" />
<text x="574.68" y="519.20" font-size="8.46" fill="#000" font-weight="bold" stroke="#000" stroke-width="0.36" stroke-linejoin="round" textLength="22.45" lengthAdjust="spacingAndGlyphs" >BWD</text>
<text x="618.71" y="519.20" font-size="8.46" fill="#000" font-weight="bold" stroke="#000" stroke-width="0.36" stroke-linejoin="round" textLength="19.78" lengthAdjust="spacingAndGlyphs" >SRH</text>
<text x="659.98" y="519.20" font-size="8.46" fill="#000" font-weight="bold" stroke="#000" stroke-width="0.36" stroke-linejoin="round" textLength="22.04" lengthAdjust="spacingAndGlyphs" >SRW</text>
<text x="690.78" y="519.20" font-size="8.46" fill="#000" font-weight="bold" stroke="#000" stroke-width="0.36" stroke-linejoin="round" textLength="29.04" lengthAdjust="spacingAndGlyphs" >SWζ%</text>
<text x="733.24" y="519.20" font-size="8.46" fill="#000" font-weight="bold" stroke="#000" stroke-width="0.36" stroke-linejoin="round" textLength="20.52" lengthAdjust="spacingAndGlyphs" >SWζ</text>
<text x="532.50" y="535.80" font-size="8.46" fill="#000" font-weight="bold" stroke="#000" stroke-width="0.36" stroke-linejoin="round" textLength="18.59" lengthAdjust="spacingAndGlyphs" >0-.5</text>
<text x="551.49" y="536.20" font-size="5.58" fill="#000" font-weight="bold" stroke="#000" stroke-width="0.24" stroke-linejoin="round" textLength="9.58" lengthAdjust="spacingAndGlyphs" >km</text>
<text x="561.26" y="535.80" font-size="8.46" fill="#000" font-weight="bold" stroke="#000" stroke-width="0.36" stroke-linejoin="round" >:</text>
<text x="572.00" y="535.80" font-size="8.46" fill="#6495ed" font-weight="bold" stroke="#6495ed" stroke-width="0.36" stroke-linejoin="round" textLength="18.59" lengthAdjust="spacingAndGlyphs" >6 kt</text>
<text x="605.60" y="535.80" font-size="8.46" fill="#6495ed" font-weight="bold" stroke="#6495ed" stroke-width="0.36" stroke-linejoin="round" textLength="39.25" lengthAdjust="spacingAndGlyphs" >42 m²/s²</text>
<text x="660.40" y="535.80" font-size="8.46" fill="#6495ed" font-weight="bold" stroke="#6495ed" stroke-width="0.36" stroke-linejoin="round" textLength="24.50" lengthAdjust="spacingAndGlyphs" >25 kt</text>
<text x="699.00" y="535.80" font-size="8.46" fill="#6495ed" font-weight="bold" stroke="#6495ed" stroke-width="0.36" stroke-linejoin="round" textLength="11.83" lengthAdjust="spacingAndGlyphs" >77</text>
<text x="730.50" y="535.80" font-size="8.46" fill="#6495ed" font-weight="bold" stroke="#6495ed" stroke-width="0.36" stroke-linejoin="round" textLength="26.89" lengthAdjust="spacingAndGlyphs" >0.009</text>
<text x="532.50" y="552.00" font-size="8.46" fill="#000" font-weight="bold" stroke="#000" stroke-width="0.36" stroke-linejoin="round" textLength="15.36" lengthAdjust="spacingAndGlyphs" >0-1</text>
<text x="548.26" y="552.40" font-size="5.58" fill="#000" font-weight="bold" stroke="#000" stroke-width="0.24" stroke-linejoin="round" textLength="9.58" lengthAdjust="spacingAndGlyphs" >km</text>
<text x="558.03" y="552.00" font-size="8.46" fill="#000" font-weight="bold" stroke="#000" stroke-width="0.36" stroke-linejoin="round" >:</text>
<text x="572.00" y="552.00" font-size="8.46" fill="#8470f5" font-weight="bold" stroke="#8470f5" stroke-width="0.36" stroke-linejoin="round" textLength="18.59" lengthAdjust="spacingAndGlyphs" >7 kt</text>
<text x="605.60" y="552.00" font-size="8.46" fill="#8470f5" font-weight="bold" stroke="#8470f5" stroke-width="0.36" stroke-linejoin="round" textLength="39.25" lengthAdjust="spacingAndGlyphs" >53 m²/s²</text>
<text x="660.40" y="552.00" font-size="8.46" fill="#8470f5" font-weight="bold" stroke="#8470f5" stroke-width="0.36" stroke-linejoin="round" textLength="24.50" lengthAdjust="spacingAndGlyphs" >23 kt</text>
<text x="699.00" y="552.00" font-size="8.46" fill="#8470f5" font-weight="bold" stroke="#8470f5" stroke-width="0.36" stroke-linejoin="round" textLength="11.83" lengthAdjust="spacingAndGlyphs" >67</text>
<text x="730.50" y="552.00" font-size="8.46" fill="#8470f5" font-weight="bold" stroke="#8470f5" stroke-width="0.36" stroke-linejoin="round" textLength="26.89" lengthAdjust="spacingAndGlyphs" >0.006</text>
<text x="532.50" y="568.20" font-size="8.46" fill="#000" font-weight="bold" stroke="#000" stroke-width="0.36" stroke-linejoin="round" textLength="15.36" lengthAdjust="spacingAndGlyphs" >1-3</text>
<text x="548.26" y="568.60" font-size="5.58" fill="#000" font-weight="bold" stroke="#000" stroke-width="0.24" stroke-linejoin="round" textLength="9.58" lengthAdjust="spacingAndGlyphs" >km</text>
<text x="558.03" y="568.20" font-size="8.46" fill="#000" font-weight="bold" stroke="#000" stroke-width="0.36" stroke-linejoin="round" >:</text>
<text x="572.00" y="568.20" font-size="8.46" fill="#4169e1" font-weight="bold" stroke="#4169e1" stroke-width="0.36" stroke-linejoin="round" textLength="24.50" lengthAdjust="spacingAndGlyphs" >14 kt</text>
<text x="605.60" y="568.20" font-size="8.46" fill="#4169e1" font-weight="bold" stroke="#4169e1" stroke-width="0.36" stroke-linejoin="round" textLength="42.78" lengthAdjust="spacingAndGlyphs" >-42 m²/s²</text>
<text x="660.40" y="568.20" font-size="8.46" fill="#4169e1" font-weight="bold" stroke="#4169e1" stroke-width="0.36" stroke-linejoin="round" textLength="24.50" lengthAdjust="spacingAndGlyphs" >22 kt</text>
<text x="699.00" y="568.20" font-size="8.46" fill="#4169e1" font-weight="bold" stroke="#4169e1" stroke-width="0.36" stroke-linejoin="round" textLength="11.83" lengthAdjust="spacingAndGlyphs" >61</text>
<text x="730.50" y="568.20" font-size="8.46" fill="#4169e1" font-weight="bold" stroke="#4169e1" stroke-width="0.36" stroke-linejoin="round" textLength="26.89" lengthAdjust="spacingAndGlyphs" >0.006</text>
<text x="532.50" y="584.50" font-size="8.46" fill="#000" font-weight="bold" stroke="#000" stroke-width="0.36" stroke-linejoin="round" textLength="15.36" lengthAdjust="spacingAndGlyphs" >3-6</text>
<text x="548.26" y="584.90" font-size="5.58" fill="#000" font-weight="bold" stroke="#000" stroke-width="0.24" stroke-linejoin="round" textLength="9.58" lengthAdjust="spacingAndGlyphs" >km</text>
<text x="558.03" y="584.50" font-size="8.46" fill="#000" font-weight="bold" stroke="#000" stroke-width="0.36" stroke-linejoin="round" >:</text>
<text x="572.00" y="584.50" font-size="8.46" fill="#0000cd" font-weight="bold" stroke="#0000cd" stroke-width="0.36" stroke-linejoin="round" textLength="24.50" lengthAdjust="spacingAndGlyphs" >68 kt</text>
<text x="605.60" y="584.50" font-size="8.46" fill="#0000cd" font-weight="bold" stroke="#0000cd" stroke-width="0.36" stroke-linejoin="round" textLength="39.25" lengthAdjust="spacingAndGlyphs" >68 m²/s²</text>
<text x="660.40" y="584.50" font-size="8.46" fill="#0000cd" font-weight="bold" stroke="#0000cd" stroke-width="0.36" stroke-linejoin="round" textLength="24.50" lengthAdjust="spacingAndGlyphs" >36 kt</text>
<text x="699.00" y="584.50" font-size="8.46" fill="#0000cd" font-weight="bold" stroke="#0000cd" stroke-width="0.36" stroke-linejoin="round" textLength="11.83" lengthAdjust="spacingAndGlyphs" >37</text>
<text x="730.50" y="584.50" font-size="8.46" fill="#0000cd" font-weight="bold" stroke="#0000cd" stroke-width="0.36" stroke-linejoin="round" textLength="26.89" lengthAdjust="spacingAndGlyphs" >0.005</text>
<text x="532.50" y="600.80" font-size="8.46" fill="#000" font-weight="bold" stroke="#000" stroke-width="0.36" stroke-linejoin="round" textLength="15.36" lengthAdjust="spacingAndGlyphs" >6-9</text>
<text x="548.26" y="601.20" font-size="5.58" fill="#000" font-weight="bold" stroke="#000" stroke-width="0.24" stroke-linejoin="round" textLength="9.58" lengthAdjust="spacingAndGlyphs" >km</text>
<text x="558.03" y="600.80" font-size="8.46" fill="#000" font-weight="bold" stroke="#000" stroke-width="0.36" stroke-linejoin="round" >:</text>
<text x="572.00" y="600.80" font-size="8.46" fill="#00008b" font-weight="bold" stroke="#00008b" stroke-width="0.36" stroke-linejoin="round" textLength="18.59" lengthAdjust="spacingAndGlyphs" >5 kt</text>
<text x="605.60" y="600.80" font-size="8.46" fill="#00008b" font-weight="bold" stroke="#00008b" stroke-width="0.36" stroke-linejoin="round" textLength="39.25" lengthAdjust="spacingAndGlyphs" >52 m²/s²</text>
<text x="660.40" y="600.80" font-size="8.46" fill="#00008b" font-weight="bold" stroke="#00008b" stroke-width="0.36" stroke-linejoin="round" textLength="24.50" lengthAdjust="spacingAndGlyphs" >51 kt</text>
<text x="699.00" y="600.80" font-size="8.46" fill="#00008b" font-weight="bold" stroke="#00008b" stroke-width="0.36" stroke-linejoin="round" textLength="11.83" lengthAdjust="spacingAndGlyphs" >64</text>
<text x="730.50" y="600.80" font-size="8.46" fill="#00008b" font-weight="bold" stroke="#00008b" stroke-width="0.36" stroke-linejoin="round" textLength="26.89" lengthAdjust="spacingAndGlyphs" >0.003</text>
<text x="532.50" y="616.60" font-size="8.46" fill="#000" font-weight="bold" stroke="#000" stroke-width="0.36" stroke-linejoin="round" textLength="17.78" lengthAdjust="spacingAndGlyphs" >EIL:</text>
<text x="572.00" y="616.60" font-size="8.46" fill="#000080" font-weight="bold" stroke="#000080" stroke-width="0.36" stroke-linejoin="round" textLength="18.59" lengthAdjust="spacingAndGlyphs" >0 kt</text>
<text x="605.60" y="616.60" font-size="8.46" fill="#000080" font-weight="bold" stroke="#000080" stroke-width="0.36" stroke-linejoin="round" textLength="33.34" lengthAdjust="spacingAndGlyphs" >0 m²/s²</text>
<text x="660.40" y="616.60" font-size="8.46" fill="#000080" font-weight="bold" stroke="#000080" stroke-width="0.36" stroke-linejoin="round" textLength="24.50" lengthAdjust="spacingAndGlyphs" >24 kt</text>
<text x="699.00" y="616.60" font-size="8.46" fill="#000080" font-weight="bold" stroke="#000080" stroke-width="0.36" stroke-linejoin="round" textLength="17.84" lengthAdjust="spacingAndGlyphs" >nan</text>
<text x="730.50" y="616.60" font-size="8.46" fill="#000080" font-weight="bold" stroke="#000080" stroke-width="0.36" stroke-linejoin="round" textLength="17.84" lengthAdjust="spacingAndGlyphs" >nan</text>
<rect x="767.30" y="502.40" width="59.90" height="125.00" fill="#fff" stroke="none" stroke-width="1" />
<clipPath id="p1c"><rect x="767.30" y="502.40" width="59.90" height="125.00"/></clipPath>
<g clip-path="url(#p1c)">
<polygon points="761.3,627.4 819.9,627.4 817.2,622.9 813.2,619.9 812.8,615.4 768.1,612.1 759.9,611.3 768.1,610.7 784.3,606.7 768.1,605.6 759.9,604.6 759.9,601.2 768.1,600.6 800.2,598.5 802.2,590.4 768.1,588.4 759.9,587.8 759.9,584.3 768.1,583.3 796.5,581.7 798.5,577.6 823.9,573.5 799.5,569.1 795.5,565.0 796.5,560.5 768.1,558.9 759.9,558.5 759.9,554.5 768.1,553.8 777.2,552.8 768.1,551.8 759.9,551.2 759.9,547.1 768.1,546.3 818.9,540.2 825.0,536.6 780.2,532.1 773.1,530.9 780.2,526.4 768.1,524.0 790.4,519.3 818.5,514.6 810.3,508.1 811.7,502.0 761.3,502.0" fill="#dfe8fb"/>
<line x1="767.30" y1="606.57" x2="827.20" y2="606.57" stroke="#bcbcbc" stroke-width="0.7" />
<line x1="767.30" y1="585.73" x2="827.20" y2="585.73" stroke="#bcbcbc" stroke-width="0.7" />
<line x1="767.30" y1="564.90" x2="827.20" y2="564.90" stroke="#bcbcbc" stroke-width="0.7" />
<line x1="767.30" y1="544.07" x2="827.20" y2="544.07" stroke="#bcbcbc" stroke-width="0.7" />
<line x1="767.30" y1="523.23" x2="827.20" y2="523.23" stroke="#bcbcbc" stroke-width="0.7" />
<polyline points="819.9,627.4 817.2,622.9 813.2,619.9 812.8,615.4 768.1,612.1 759.9,611.3 768.1,610.7 784.3,606.7 768.1,605.6 759.9,604.6 759.9,601.2 768.1,600.6 800.2,598.5 802.2,590.4 768.1,588.4 759.9,587.8" fill="none" stroke="#800090" stroke-width="1.6" stroke-linejoin="round"/>
<polyline points="759.9,584.3 768.1,583.3 796.5,581.7 798.5,577.6 823.9,573.5 799.5,569.1 795.5,565.0 796.5,560.5 768.1,558.9 759.9,558.5 759.9,554.5 768.1,553.8 777.2,552.8 768.1,551.8 759.9,551.2 759.9,547.1 768.1,546.3 818.9,540.2 825.0,536.6 780.2,532.1 773.1,530.9 780.2,526.4 768.1,524.0 790.4,519.3 818.5,514.6 810.3,508.1 811.7,502.0" fill="none" stroke="#ff0000" stroke-width="1.6" stroke-linejoin="round"/>
</g>
<text x="771.27" y="512.50" font-size="5.69" fill="#000" font-weight="bold" stroke="#000" stroke-width="0.24" stroke-linejoin="round" textLength="52.66" lengthAdjust="spacingAndGlyphs" >Streamwiseness</text>
<text x="785.23" y="518.70" font-size="5.69" fill="#000" font-weight="bold" stroke="#000" stroke-width="0.24" stroke-linejoin="round" textLength="24.74" lengthAdjust="spacingAndGlyphs" >of ζ (%)</text>
<text x="774.20" y="544.40" font-size="5.69" fill="#000" font-weight="bold" stroke="#000" stroke-width="0.24" stroke-linejoin="round" textLength="15.74" lengthAdjust="spacingAndGlyphs" >2 km</text>
<text x="774.20" y="565.20" font-size="5.69" fill="#000" font-weight="bold" stroke="#000" stroke-width="0.24" stroke-linejoin="round" textLength="21.89" lengthAdjust="spacingAndGlyphs" >1.5 km</text>
<text x="774.20" y="586.00" font-size="5.69" fill="#000" font-weight="bold" stroke="#000" stroke-width="0.24" stroke-linejoin="round" textLength="15.74" lengthAdjust="spacingAndGlyphs" >1 km</text>
<text x="775.50" y="606.80" font-size="5.69" fill="#000" font-weight="bold" stroke="#000" stroke-width="0.24" stroke-linejoin="round" textLength="17.91" lengthAdjust="spacingAndGlyphs" >.5 km</text>
<text x="772.84" y="625.30" font-size="5.57" fill="#808080" font-style="italic" textLength="7.13" lengthAdjust="spacingAndGlyphs" >50</text>
<text x="792.54" y="625.30" font-size="5.57" fill="#808080" font-style="italic" textLength="7.13" lengthAdjust="spacingAndGlyphs" >70</text>
<text x="812.24" y="625.30" font-size="5.57" fill="#808080" font-style="italic" textLength="7.13" lengthAdjust="spacingAndGlyphs" >90</text>
<rect x="767.30" y="502.40" width="59.90" height="125.00" fill="none" stroke="#555" stroke-width="0.9" />
<rect x="827.20" y="502.40" width="60.40" height="125.00" fill="#fff" stroke="none" stroke-width="1" />
<line x1="827.20" y1="606.57" x2="887.60" y2="606.57" stroke="#bcbcbc" stroke-width="0.7" />
<line x1="827.20" y1="585.73" x2="887.60" y2="585.73" stroke="#bcbcbc" stroke-width="0.7" />
<line x1="827.20" y1="564.90" x2="887.60" y2="564.90" stroke="#bcbcbc" stroke-width="0.7" />
<line x1="827.20" y1="544.07" x2="887.60" y2="544.07" stroke="#bcbcbc" stroke-width="0.7" />
<line x1="827.20" y1="523.23" x2="887.60" y2="523.23" stroke="#bcbcbc" stroke-width="0.7" />
<polygon points="827.2,627.4 838.8,627.4 837.7,620.9 832.2,615.4 830.0,611.0 835.5,607.7 831.1,603.8 829.6,600.1 830.0,591.3 828.9,582.5 829.6,571.6 828.9,560.7 830.0,555.2 836.6,552.3 837.7,547.5 844.3,542.1 850.8,535.5 842.1,532.2 836.6,530.5 843.2,527.8 842.1,523.5 836.6,520.2 832.2,515.8 831.1,511.4 835.5,508.1 830.0,504.9 832.2,502.7 827.2,502.7" fill="#dcdcdc"/>
<polygon points="827.2,627.4 837.7,627.4 836.6,620.9 831.8,615.4 828.3,609.9 830.5,606.6 828.3,602.2 828.9,591.3 828.3,582.5 828.9,571.6 828.3,560.7 828.3,556.3 832.2,552.3 828.3,548.6 833.3,545.3 844.3,541.0 850.2,535.5 841.0,532.6 831.1,531.1 836.6,527.8 833.3,524.5 831.1,520.2 830.5,515.8 830.5,511.4 834.9,508.1 829.6,504.9 831.8,502.7 827.2,502.7" fill="#f3dcb8"/>
<polyline points="837.7,627.4 836.6,620.9 831.8,615.4 828.3,609.9 830.5,606.6 828.3,602.2 828.9,591.3 828.3,582.5 828.9,571.6 828.3,560.7 828.3,556.3 832.2,552.3 828.3,548.6 833.3,545.3 844.3,541.0 850.2,535.5 841.0,532.6 831.1,531.1 836.6,527.8 833.3,524.5 831.1,520.2 830.5,515.8 830.5,511.4 834.9,508.1 829.6,504.9 831.8,502.7" fill="none" stroke="#ffa726" stroke-width="1.3" stroke-linejoin="round"/>
<polyline points="838.8,627.4 837.7,620.9 832.2,615.4 830.0,611.0 835.5,607.7 831.1,603.8 829.6,600.1 830.0,591.3 828.9,582.5 829.6,571.6 828.9,560.7 830.0,555.2 836.6,552.3 837.7,547.5 844.3,542.1 850.8,535.5 842.1,532.2 836.6,530.5 843.2,527.8 842.1,523.5 836.6,520.2 832.2,515.8 831.1,511.4 835.5,508.1 830.0,504.9 832.2,502.7" fill="none" stroke="#b07d12" stroke-width="1.7" stroke-linejoin="round"/>
<text x="841.25" y="515.10" font-size="6.82" fill="#000" font-weight="bold" stroke="#000" stroke-width="0.29" stroke-linejoin="round" textLength="33.50" lengthAdjust="spacingAndGlyphs" >Total ζ &amp;</text>
<text x="832.09" y="522.80" font-size="6.82" fill="#000" font-weight="bold" stroke="#000" stroke-width="0.29" stroke-linejoin="round" textLength="51.82" lengthAdjust="spacingAndGlyphs" >Streamwise ζ</text>
<text x="847.23" y="530.00" font-size="6.82" fill="#000" font-weight="bold" stroke="#000" stroke-width="0.29" stroke-linejoin="round" textLength="21.55" lengthAdjust="spacingAndGlyphs" >(/sec)</text>
<text x="832.55" y="625.30" font-size="5.57" fill="#808080" font-style="italic" textLength="8.91" lengthAdjust="spacingAndGlyphs" >.01</text>
<text x="852.25" y="625.30" font-size="5.57" fill="#808080" font-style="italic" textLength="8.91" lengthAdjust="spacingAndGlyphs" >.03</text>
<text x="872.65" y="625.30" font-size="5.57" fill="#808080" font-style="italic" textLength="8.91" lengthAdjust="spacingAndGlyphs" >.05</text>
<rect x="827.20" y="502.40" width="60.40" height="125.00" fill="none" stroke="#555" stroke-width="0.9" />
<rect x="887.60" y="502.40" width="59.70" height="125.00" fill="#fff" stroke="none" stroke-width="1" />
<polygon points="887.6,627.4 908.5,627.4 912.8,617.6 914.4,611.0 910.6,602.2 906.3,586.9 904.5,573.8 905.8,565.0 908.0,557.4 901.9,547.5 895.3,538.8 894.9,534.4 898.6,527.8 906.3,516.9 908.5,510.3 905.8,502.2 887.6,502.2" fill="#dfe8fb"/>
<line x1="887.60" y1="606.57" x2="947.30" y2="606.57" stroke="#bcbcbc" stroke-width="0.7" />
<line x1="887.60" y1="585.73" x2="947.30" y2="585.73" stroke="#bcbcbc" stroke-width="0.7" />
<line x1="887.60" y1="564.90" x2="947.30" y2="564.90" stroke="#bcbcbc" stroke-width="0.7" />
<line x1="887.60" y1="544.07" x2="947.30" y2="544.07" stroke="#bcbcbc" stroke-width="0.7" />
<line x1="887.60" y1="523.23" x2="947.30" y2="523.23" stroke="#bcbcbc" stroke-width="0.7" />
<polyline points="908.5,627.4 912.8,617.6 914.4,611.0 910.6,602.2 906.3,586.9" fill="none" stroke="#800090" stroke-width="1.6" stroke-linejoin="round"/>
<polyline points="906.3,586.9 904.5,573.8 905.8,565.0 908.0,557.4 901.9,547.5 895.3,538.8 894.9,534.4 898.6,527.8 906.3,516.9 908.5,510.3 905.8,502.2" fill="none" stroke="#ff0000" stroke-width="1.6" stroke-linejoin="round"/>
<text x="888.48" y="517.30" font-size="6.82" fill="#000" font-weight="bold" stroke="#000" stroke-width="0.29" stroke-linejoin="round" textLength="57.44" lengthAdjust="spacingAndGlyphs" >Storm Relative</text>
<text x="897.08" y="524.60" font-size="6.82" fill="#000" font-weight="bold" stroke="#000" stroke-width="0.29" stroke-linejoin="round" textLength="40.24" lengthAdjust="spacingAndGlyphs" >Wind (kts)</text>
<text x="933.21" y="548.60" font-size="4.97" fill="#000" font-weight="bold" stroke="#000" stroke-width="0.21" stroke-linejoin="round" textLength="14.19" lengthAdjust="spacingAndGlyphs" >-LCL-</text>
<text x="898.34" y="625.30" font-size="5.57" fill="#808080" font-style="italic" textLength="7.13" lengthAdjust="spacingAndGlyphs" >20</text>
<text x="913.64" y="625.30" font-size="5.57" fill="#808080" font-style="italic" textLength="7.13" lengthAdjust="spacingAndGlyphs" >30</text>
<text x="928.94" y="625.30" font-size="5.57" fill="#808080" font-style="italic" textLength="7.13" lengthAdjust="spacingAndGlyphs" >40</text>
<rect x="887.60" y="502.40" width="59.70" height="125.00" fill="none" stroke="#555" stroke-width="0.9" />
<rect x="947.30" y="502.40" width="60.30" height="125.00" fill="#fff" stroke="none" stroke-width="1" />
<line x1="947.30" y1="606.57" x2="1007.60" y2="606.57" stroke="#bcbcbc" stroke-width="0.7" />
<line x1="947.30" y1="585.73" x2="1007.60" y2="585.73" stroke="#bcbcbc" stroke-width="0.7" />
<line x1="947.30" y1="564.90" x2="1007.60" y2="564.90" stroke="#bcbcbc" stroke-width="0.7" />
<line x1="947.30" y1="544.07" x2="1007.60" y2="544.07" stroke="#bcbcbc" stroke-width="0.7" />
<line x1="947.30" y1="523.23" x2="1007.60" y2="523.23" stroke="#bcbcbc" stroke-width="0.7" />
<polygon points="947.4,627.4 947.4,624.1 948.3,578.2 950.0,573.8 956.6,569.4 967.5,567.2 974.1,565.5 977.4,561.8 977.4,627.4" fill="#7fbcbc"/>
<polygon points="977.4,624.1 993.8,627.4 977.4,627.4" fill="#ffa040"/>
<line x1="977.40" y1="502.40" x2="977.40" y2="627.40" stroke="#6aa8e8" stroke-width="0.8" stroke-dasharray="0.9,1.1"/>
<text x="959.82" y="515.10" font-size="6.82" fill="#000" font-weight="bold" stroke="#000" stroke-width="0.29" stroke-linejoin="round" textLength="35.16" lengthAdjust="spacingAndGlyphs" >Stepwise</text>
<text x="955.36" y="522.80" font-size="6.82" fill="#000" font-weight="bold" stroke="#000" stroke-width="0.29" stroke-linejoin="round" textLength="44.08" lengthAdjust="spacingAndGlyphs" >CIN &amp; CAPE</text>
<text x="967.01" y="530.00" font-size="6.82" fill="#000" font-weight="bold" stroke="#000" stroke-width="0.29" stroke-linejoin="round" textLength="20.77" lengthAdjust="spacingAndGlyphs" >(J/kg)</text>
<g transform="translate(957.7,620.3) rotate(-45)"><text x="-5.92" y="2.20" font-size="6.17" fill="#606060" font-style="italic" textLength="11.83" lengthAdjust="spacingAndGlyphs" >200</text></g>
<g transform="translate(967.5,620.3) rotate(-45)"><text x="-5.92" y="2.20" font-size="6.17" fill="#606060" font-style="italic" textLength="11.83" lengthAdjust="spacingAndGlyphs" >100</text></g>
<g transform="translate(976.3,620.3) rotate(-45)"><text x="-1.97" y="2.20" font-size="6.17" fill="#606060" font-style="italic" >0</text></g>
<g transform="translate(987.2,620.3) rotate(-45)"><text x="-3.77" y="2.20" font-size="6.17" fill="#606060" font-style="italic" textLength="7.54" lengthAdjust="spacingAndGlyphs" >1k</text></g>
<g transform="translate(997.5,620.3) rotate(-45)"><text x="-3.77" y="2.20" font-size="6.17" fill="#606060" font-style="italic" textLength="7.54" lengthAdjust="spacingAndGlyphs" >2k</text></g>
<rect x="947.30" y="502.40" width="60.30" height="125.00" fill="none" stroke="#555" stroke-width="0.9" />
<circle cx="32.0" cy="616.7" r="13.3" fill="#e6e8f3" stroke="#444" stroke-width="0.7"/>
<text x="19.30" y="615.60" font-size="5.57" fill="#111" font-weight="bold" stroke="#111" stroke-width="0.24" stroke-linejoin="round" textLength="24.00" lengthAdjust="spacingAndGlyphs" >SOUNDER</text>
<text x="32.60" y="621.80" font-size="8.56" fill="#4aa54a" >P</text>
<text x="38.00" y="621.80" font-size="8.56" fill="#e02a35" >Y</text>
<text x="24.50" y="627.20" font-size="2.19" fill="#777" textLength="15.00" lengthAdjust="spacingAndGlyphs" >VERTICAL PROFILE</text>
<text x="56.60" y="614.60" font-size="11.47" fill="#a9c3f5" font-weight="bold" stroke="#a9c3f5" stroke-width="0.48" stroke-linejoin="round" textLength="309.98" lengthAdjust="spacingAndGlyphs" >SOUNDERPY VERTICAL PROFILE ANALYSIS TOOL</text>
<text x="86.50" y="625.70" font-size="8.62" fill="#a9c3f5" font-weight="bold" stroke="#a9c3f5" stroke-width="0.36" stroke-linejoin="round" textLength="249.60" lengthAdjust="spacingAndGlyphs" >(C) KYLE J GILLETT | sounderpysoundings.anvil.app</text>
<line x1="519.30" y1="64.00" x2="519.30" y2="502.50" stroke="#555" stroke-width="0.9" />
<line x1="519.30" y1="92.10" x2="501.00" y2="92.10" stroke="#000" stroke-width="0.9" stroke-linecap="round"/>
<polygon points="501.0,92.1 502.1,84.9 504.2,92.1" fill="#000" stroke="#000" stroke-width="0.4"/>
<line x1="505.61" y1="92.10" x2="504.01" y2="84.90" stroke="#000" stroke-width="0.9" stroke-linecap="round"/>
<line x1="507.96" y1="92.10" x2="506.36" y2="84.90" stroke="#000" stroke-width="0.9" stroke-linecap="round"/>
<line x1="510.31" y1="92.10" x2="508.71" y2="84.90" stroke="#000" stroke-width="0.9" stroke-linecap="round"/>
<circle cx="519.3" cy="92.1" r="1.25" fill="#000"/>
<line x1="519.30" y1="113.70" x2="501.00" y2="113.70" stroke="#000" stroke-width="0.9" stroke-linecap="round"/>
<polygon points="501.0,113.7 502.1,106.5 504.2,113.7" fill="#000" stroke="#000" stroke-width="0.4"/>
<line x1="505.61" y1="113.70" x2="504.01" y2="106.50" stroke="#000" stroke-width="0.9" stroke-linecap="round"/>
<line x1="507.96" y1="113.70" x2="506.36" y2="106.50" stroke="#000" stroke-width="0.9" stroke-linecap="round"/>
<line x1="510.31" y1="113.70" x2="508.71" y2="106.50" stroke="#000" stroke-width="0.9" stroke-linecap="round"/>
<line x1="512.66" y1="113.70" x2="511.06" y2="106.50" stroke="#000" stroke-width="0.9" stroke-linecap="round"/>
<line x1="515.01" y1="113.70" x2="514.21" y2="110.10" stroke="#000" stroke-width="0.9" stroke-linecap="round"/>
<circle cx="519.3" cy="113.7" r="1.25" fill="#000"/>
<line x1="519.30" y1="120.30" x2="501.00" y2="120.30" stroke="#000" stroke-width="0.9" stroke-linecap="round"/>
<polygon points="501.0,120.3 502.1,113.1 504.2,120.3" fill="#000" stroke="#000" stroke-width="0.4"/>
<line x1="505.61" y1="120.30" x2="504.01" y2="113.10" stroke="#000" stroke-width="0.9" stroke-linecap="round"/>
<line x1="507.96" y1="120.30" x2="506.36" y2="113.10" stroke="#000" stroke-width="0.9" stroke-linecap="round"/>
<line x1="510.31" y1="120.30" x2="508.71" y2="113.10" stroke="#000" stroke-width="0.9" stroke-linecap="round"/>
<line x1="512.66" y1="120.30" x2="511.06" y2="113.10" stroke="#000" stroke-width="0.9" stroke-linecap="round"/>
<line x1="515.01" y1="120.30" x2="514.21" y2="116.70" stroke="#000" stroke-width="0.9" stroke-linecap="round"/>
<circle cx="519.3" cy="120.3" r="1.25" fill="#000"/>
<line x1="519.30" y1="161.00" x2="501.01" y2="160.36" stroke="#000" stroke-width="0.9" stroke-linecap="round"/>
<polygon points="501.0,160.4 502.4,153.2 504.2,160.5" fill="#000" stroke="#000" stroke-width="0.4"/>
<line x1="505.62" y1="160.52" x2="504.27" y2="153.27" stroke="#000" stroke-width="0.9" stroke-linecap="round"/>
<line x1="507.97" y1="160.60" x2="506.62" y2="153.35" stroke="#000" stroke-width="0.9" stroke-linecap="round"/>
<line x1="510.32" y1="160.69" x2="508.97" y2="153.43" stroke="#000" stroke-width="0.9" stroke-linecap="round"/>
<line x1="512.66" y1="160.77" x2="511.32" y2="153.52" stroke="#000" stroke-width="0.9" stroke-linecap="round"/>
<circle cx="519.3" cy="161.0" r="1.25" fill="#000"/>
<line x1="519.30" y1="176.50" x2="501.00" y2="176.50" stroke="#000" stroke-width="0.9" stroke-linecap="round"/>
<polygon points="501.0,176.5 502.1,169.3 504.2,176.5" fill="#000" stroke="#000" stroke-width="0.4"/>
<line x1="505.61" y1="176.50" x2="504.01" y2="169.30" stroke="#000" stroke-width="0.9" stroke-linecap="round"/>
<line x1="507.96" y1="176.50" x2="506.36" y2="169.30" stroke="#000" stroke-width="0.9" stroke-linecap="round"/>
<line x1="510.31" y1="176.50" x2="508.71" y2="169.30" stroke="#000" stroke-width="0.9" stroke-linecap="round"/>
<circle cx="519.3" cy="176.5" r="1.25" fill="#000"/>
<line x1="519.30" y1="205.50" x2="501.10" y2="207.41" stroke="#000" stroke-width="0.9" stroke-linecap="round"/>
<polygon points="501.1,207.4 501.5,200.1 504.3,207.1" fill="#000" stroke="#000" stroke-width="0.4"/>
<line x1="505.68" y1="206.93" x2="503.34" y2="199.94" stroke="#000" stroke-width="0.9" stroke-linecap="round"/>
<line x1="508.02" y1="206.69" x2="505.68" y2="199.69" stroke="#000" stroke-width="0.9" stroke-linecap="round"/>
<line x1="510.36" y1="206.44" x2="508.02" y2="199.45" stroke="#000" stroke-width="0.9" stroke-linecap="round"/>
<circle cx="519.3" cy="205.5" r="1.25" fill="#000"/>
<line x1="519.30" y1="220.50" x2="501.28" y2="223.68" stroke="#000" stroke-width="0.9" stroke-linecap="round"/>
<polygon points="501.3,223.7 501.1,216.4 504.4,223.1" fill="#000" stroke="#000" stroke-width="0.4"/>
<line x1="505.82" y1="222.88" x2="502.99" y2="216.06" stroke="#000" stroke-width="0.9" stroke-linecap="round"/>
<line x1="508.13" y1="222.47" x2="505.31" y2="215.66" stroke="#000" stroke-width="0.9" stroke-linecap="round"/>
<line x1="510.45" y1="222.06" x2="507.62" y2="215.25" stroke="#000" stroke-width="0.9" stroke-linecap="round"/>
<line x1="512.76" y1="221.65" x2="509.93" y2="214.84" stroke="#000" stroke-width="0.9" stroke-linecap="round"/>
<circle cx="519.3" cy="220.5" r="1.25" fill="#000"/>
<line x1="519.30" y1="226.00" x2="501.28" y2="229.18" stroke="#000" stroke-width="0.9" stroke-linecap="round"/>
<polygon points="501.3,229.2 501.1,221.9 504.4,228.6" fill="#000" stroke="#000" stroke-width="0.4"/>
<line x1="505.82" y1="228.38" x2="502.99" y2="221.56" stroke="#000" stroke-width="0.9" stroke-linecap="round"/>
<line x1="508.13" y1="227.97" x2="505.31" y2="221.16" stroke="#000" stroke-width="0.9" stroke-linecap="round"/>
<line x1="510.45" y1="227.56" x2="507.62" y2="220.75" stroke="#000" stroke-width="0.9" stroke-linecap="round"/>
<line x1="512.76" y1="227.15" x2="511.35" y2="223.75" stroke="#000" stroke-width="0.9" stroke-linecap="round"/>
<circle cx="519.3" cy="226.0" r="1.25" fill="#000"/>
<line x1="519.30" y1="243.75" x2="501.23" y2="246.61" stroke="#000" stroke-width="0.9" stroke-linecap="round"/>
<polygon points="501.2,246.6 501.2,239.3 504.4,246.1" fill="#000" stroke="#000" stroke-width="0.4"/>
<line x1="505.78" y1="245.89" x2="503.07" y2="239.03" stroke="#000" stroke-width="0.9" stroke-linecap="round"/>
<line x1="508.10" y1="245.52" x2="505.39" y2="238.66" stroke="#000" stroke-width="0.9" stroke-linecap="round"/>
<line x1="510.42" y1="245.16" x2="509.07" y2="241.73" stroke="#000" stroke-width="0.9" stroke-linecap="round"/>
<circle cx="519.3" cy="243.8" r="1.25" fill="#000"/>
<line x1="519.30" y1="256.50" x2="501.47" y2="260.62" stroke="#000" stroke-width="0.9" stroke-linecap="round"/>
<polygon points="501.5,260.6 500.9,253.3 504.6,259.9" fill="#000" stroke="#000" stroke-width="0.4"/>
<line x1="505.96" y1="259.58" x2="502.78" y2="252.92" stroke="#000" stroke-width="0.9" stroke-linecap="round"/>
<line x1="508.25" y1="259.05" x2="505.07" y2="252.40" stroke="#000" stroke-width="0.9" stroke-linecap="round"/>
<circle cx="519.3" cy="256.5" r="1.25" fill="#000"/>
<line x1="519.30" y1="280.50" x2="501.54" y2="284.93" stroke="#000" stroke-width="0.9" stroke-linecap="round"/>
<polygon points="501.5,284.9 500.9,277.7 504.6,284.2" fill="#000" stroke="#000" stroke-width="0.4"/>
<line x1="506.02" y1="283.81" x2="502.72" y2="277.21" stroke="#000" stroke-width="0.9" stroke-linecap="round"/>
<line x1="508.30" y1="283.24" x2="506.65" y2="279.94" stroke="#000" stroke-width="0.9" stroke-linecap="round"/>
<circle cx="519.3" cy="280.5" r="1.25" fill="#000"/>
<line x1="519.30" y1="299.25" x2="501.54" y2="303.68" stroke="#000" stroke-width="0.9" stroke-linecap="round"/>
<polygon points="501.5,303.7 500.9,296.4 504.6,302.9" fill="#000" stroke="#000" stroke-width="0.4"/>
<line x1="506.02" y1="302.56" x2="502.72" y2="295.96" stroke="#000" stroke-width="0.9" stroke-linecap="round"/>
<circle cx="519.3" cy="299.2" r="1.25" fill="#000"/>
<line x1="519.30" y1="313.00" x2="501.71" y2="318.04" stroke="#000" stroke-width="0.9" stroke-linecap="round"/>
<polygon points="501.7,318.0 500.8,310.8 504.8,317.2" fill="#000" stroke="#000" stroke-width="0.4"/>
<line x1="506.14" y1="316.77" x2="502.62" y2="310.29" stroke="#000" stroke-width="0.9" stroke-linecap="round"/>
<circle cx="519.3" cy="313.0" r="1.25" fill="#000"/>
<line x1="519.30" y1="327.50" x2="502.00" y2="333.46" stroke="#000" stroke-width="0.9" stroke-linecap="round"/>
<polygon points="502.0,333.5 500.7,326.3 505.0,332.4" fill="#000" stroke="#000" stroke-width="0.4"/>
<line x1="506.36" y1="331.96" x2="502.50" y2="325.67" stroke="#000" stroke-width="0.9" stroke-linecap="round"/>
<circle cx="519.3" cy="327.5" r="1.25" fill="#000"/>
<line x1="519.30" y1="337.75" x2="502.10" y2="344.01" stroke="#000" stroke-width="0.9" stroke-linecap="round"/>
<polygon points="502.1,344.0 500.7,336.9 505.1,342.9" fill="#000" stroke="#000" stroke-width="0.4"/>
<line x1="506.44" y1="342.43" x2="502.47" y2="336.21" stroke="#000" stroke-width="0.9" stroke-linecap="round"/>
<line x1="508.64" y1="341.63" x2="506.66" y2="338.52" stroke="#000" stroke-width="0.9" stroke-linecap="round"/>
<circle cx="519.3" cy="337.8" r="1.25" fill="#000"/>
<line x1="519.30" y1="355.30" x2="501.62" y2="360.04" stroke="#000" stroke-width="0.9" stroke-linecap="round"/>
<polygon points="501.6,360.0 500.8,352.8 504.7,359.2" fill="#000" stroke="#000" stroke-width="0.4"/>
<line x1="506.08" y1="358.84" x2="502.67" y2="352.30" stroke="#000" stroke-width="0.9" stroke-linecap="round"/>
<line x1="508.35" y1="358.24" x2="504.94" y2="351.69" stroke="#000" stroke-width="0.9" stroke-linecap="round"/>
<line x1="510.62" y1="357.63" x2="508.91" y2="354.36" stroke="#000" stroke-width="0.9" stroke-linecap="round"/>
<circle cx="519.3" cy="355.3" r="1.25" fill="#000"/>
<line x1="519.30" y1="368.00" x2="501.54" y2="372.43" stroke="#000" stroke-width="0.9" stroke-linecap="round"/>
<polygon points="501.5,372.4 500.9,365.2 504.6,371.7" fill="#000" stroke="#000" stroke-width="0.4"/>
<line x1="506.02" y1="371.31" x2="504.37" y2="368.01" stroke="#000" stroke-width="0.9" stroke-linecap="round"/>
<circle cx="519.3" cy="368.0" r="1.25" fill="#000"/>
<line x1="519.30" y1="387.60" x2="501.80" y2="392.95" stroke="#000" stroke-width="0.9" stroke-linecap="round"/>
<line x1="501.80" y1="392.95" x2="498.16" y2="386.53" stroke="#000" stroke-width="0.9" stroke-linecap="round"/>
<line x1="504.05" y1="392.26" x2="500.41" y2="385.85" stroke="#000" stroke-width="0.9" stroke-linecap="round"/>
<line x1="506.29" y1="391.58" x2="502.66" y2="385.16" stroke="#000" stroke-width="0.9" stroke-linecap="round"/>
<line x1="508.54" y1="390.89" x2="504.91" y2="384.47" stroke="#000" stroke-width="0.9" stroke-linecap="round"/>
<circle cx="519.3" cy="387.6" r="1.25" fill="#000"/>
<line x1="519.30" y1="389.00" x2="502.10" y2="395.26" stroke="#000" stroke-width="0.9" stroke-linecap="round"/>
<line x1="502.10" y1="395.26" x2="498.14" y2="389.04" stroke="#000" stroke-width="0.9" stroke-linecap="round"/>
<line x1="504.31" y1="394.46" x2="500.35" y2="388.24" stroke="#000" stroke-width="0.9" stroke-linecap="round"/>
<line x1="506.52" y1="393.65" x2="502.55" y2="387.43" stroke="#000" stroke-width="0.9" stroke-linecap="round"/>
<line x1="508.73" y1="392.85" x2="504.76" y2="386.63" stroke="#000" stroke-width="0.9" stroke-linecap="round"/>
<circle cx="519.3" cy="389.0" r="1.25" fill="#000"/>
<line x1="519.30" y1="390.40" x2="502.45" y2="397.55" stroke="#000" stroke-width="0.9" stroke-linecap="round"/>
<line x1="502.45" y1="397.55" x2="498.17" y2="391.55" stroke="#000" stroke-width="0.9" stroke-linecap="round"/>
<line x1="504.62" y1="396.63" x2="500.33" y2="390.63" stroke="#000" stroke-width="0.9" stroke-linecap="round"/>
<line x1="506.78" y1="395.71" x2="502.50" y2="389.71" stroke="#000" stroke-width="0.9" stroke-linecap="round"/>
<line x1="508.94" y1="394.80" x2="504.66" y2="388.79" stroke="#000" stroke-width="0.9" stroke-linecap="round"/>
<circle cx="519.3" cy="390.4" r="1.25" fill="#000"/>
<line x1="519.30" y1="410.50" x2="501.62" y2="415.24" stroke="#000" stroke-width="0.9" stroke-linecap="round"/>
<line x1="505.03" y1="414.32" x2="503.32" y2="411.05" stroke="#000" stroke-width="0.9" stroke-linecap="round"/>
<circle cx="519.3" cy="410.5" r="1.25" fill="#000"/>
<line x1="519.30" y1="423.30" x2="526.74" y2="440.02" stroke="#000" stroke-width="0.9" stroke-linecap="round"/>
<line x1="526.74" y1="440.02" x2="520.82" y2="444.41" stroke="#000" stroke-width="0.9" stroke-linecap="round"/>
<circle cx="519.3" cy="423.3" r="1.25" fill="#000"/>
<line x1="519.30" y1="437.50" x2="517.39" y2="455.70" stroke="#000" stroke-width="0.9" stroke-linecap="round"/>
<line x1="517.76" y1="452.19" x2="514.09" y2="452.61" stroke="#000" stroke-width="0.9" stroke-linecap="round"/>
<circle cx="519.3" cy="437.5" r="1.25" fill="#000"/>
<line x1="519.30" y1="451.70" x2="518.98" y2="470.00" stroke="#000" stroke-width="0.9" stroke-linecap="round"/>
<line x1="518.98" y1="470.00" x2="511.03" y2="471.46" stroke="#000" stroke-width="0.9" stroke-linecap="round"/>
<line x1="519.02" y1="467.65" x2="511.07" y2="469.11" stroke="#000" stroke-width="0.9" stroke-linecap="round"/>
<circle cx="519.3" cy="451.7" r="1.25" fill="#000"/>
<line x1="519.30" y1="465.80" x2="518.98" y2="484.10" stroke="#000" stroke-width="0.9" stroke-linecap="round"/>
<line x1="518.98" y1="484.10" x2="510.67" y2="485.55" stroke="#000" stroke-width="0.9" stroke-linecap="round"/>
<line x1="519.02" y1="481.75" x2="510.71" y2="483.20" stroke="#000" stroke-width="0.9" stroke-linecap="round"/>
<circle cx="519.3" cy="465.8" r="1.25" fill="#000"/>
<line x1="519.30" y1="477.60" x2="519.94" y2="495.89" stroke="#000" stroke-width="0.9" stroke-linecap="round"/>
<line x1="519.94" y1="495.89" x2="512.08" y2="497.76" stroke="#000" stroke-width="0.9" stroke-linecap="round"/>
<line x1="519.86" y1="493.54" x2="512.00" y2="495.42" stroke="#000" stroke-width="0.9" stroke-linecap="round"/>
<circle cx="519.3" cy="477.6" r="1.25" fill="#000"/>
<line x1="519.30" y1="489.80" x2="522.48" y2="507.82" stroke="#000" stroke-width="0.9" stroke-linecap="round"/>
<line x1="522.48" y1="507.82" x2="516.02" y2="510.59" stroke="#000" stroke-width="0.9" stroke-linecap="round"/>
<line x1="522.07" y1="505.51" x2="518.84" y2="506.89" stroke="#000" stroke-width="0.9" stroke-linecap="round"/>
<circle cx="519.3" cy="489.8" r="1.25" fill="#000"/>
</svg>
</body></html>
